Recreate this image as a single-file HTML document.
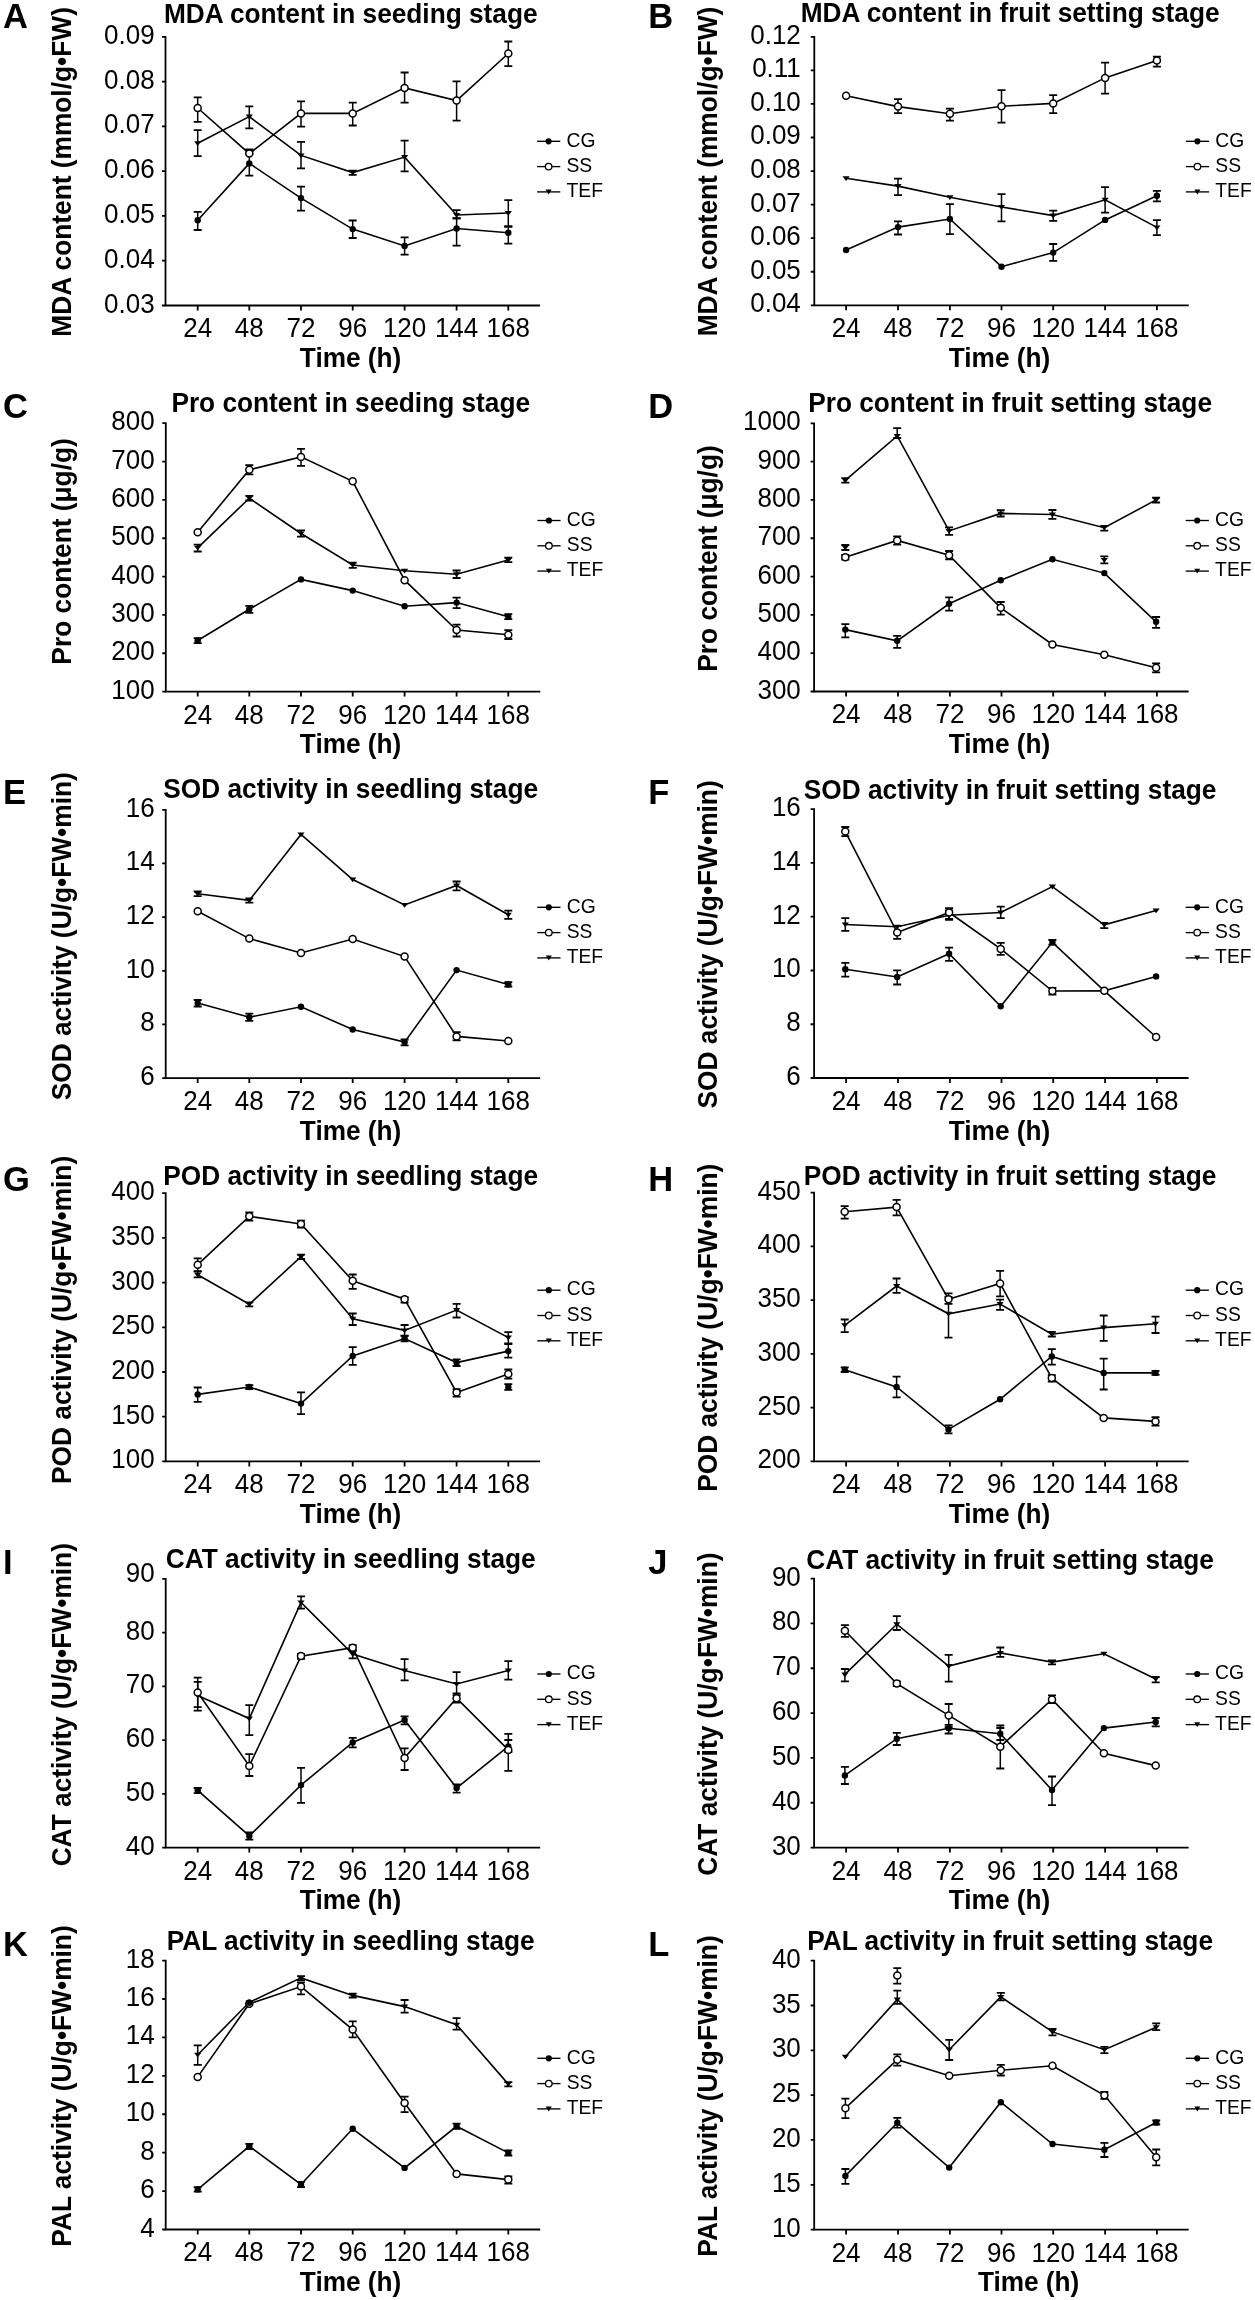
<!DOCTYPE html>
<html><head><meta charset="utf-8"><style>
html,body{margin:0;padding:0;background:#fff;}
svg{display:block;filter:grayscale(1) blur(0.3px);}
text{font-family:"Liberation Sans", sans-serif;fill:#000;}
</style></head><body>
<svg width="1255" height="2300" viewBox="0 0 1255 2300">
<rect width="1255" height="2300" fill="#fff"/>
<path d="M162 36.8H165.5V305.5H540" fill="none" stroke="#000" stroke-width="1.8" stroke-linejoin="miter"/>
<text class="ytick" transform="translate(154.6 43.8) scale(1 1.04)" text-anchor="end" font-size="26.0">0.09</text>
<text class="ytick" transform="translate(154.6 88.58) scale(1 1.04)" text-anchor="end" font-size="26.0">0.08</text>
<text class="ytick" transform="translate(154.6 133.37) scale(1 1.04)" text-anchor="end" font-size="26.0">0.07</text>
<text class="ytick" transform="translate(154.6 178.15) scale(1 1.04)" text-anchor="end" font-size="26.0">0.06</text>
<text class="ytick" transform="translate(154.6 222.93) scale(1 1.04)" text-anchor="end" font-size="26.0">0.05</text>
<text class="ytick" transform="translate(154.6 267.72) scale(1 1.04)" text-anchor="end" font-size="26.0">0.04</text>
<text class="ytick" transform="translate(154.6 312.5) scale(1 1.04)" text-anchor="end" font-size="26.0">0.03</text>
<text class="xtick" transform="translate(197.7 337.4) scale(1 1.04)" text-anchor="middle" font-size="26.0">24</text>
<text class="xtick" transform="translate(249.3 337.4) scale(1 1.04)" text-anchor="middle" font-size="26.0">48</text>
<text class="xtick" transform="translate(301 337.4) scale(1 1.04)" text-anchor="middle" font-size="26.0">72</text>
<text class="xtick" transform="translate(352.7 337.4) scale(1 1.04)" text-anchor="middle" font-size="26.0">96</text>
<text class="xtick" transform="translate(404.6 337.4) scale(1 1.04)" text-anchor="middle" font-size="26.0">120</text>
<text class="xtick" transform="translate(456.6 337.4) scale(1 1.04)" text-anchor="middle" font-size="26.0">144</text>
<text class="xtick" transform="translate(508.3 337.4) scale(1 1.04)" text-anchor="middle" font-size="26.0">168</text>
<path d="M162 81.58H165.5M162 126.37H165.5M162 171.15H165.5M162 215.93H165.5M162 260.72H165.5M162 305.5H165.5M197.7 305.5V310.5M249.3 305.5V310.5M301 305.5V310.5M352.7 305.5V310.5M404.6 305.5V310.5M456.6 305.5V310.5M508.3 305.5V310.5" stroke="#000" stroke-width="1.8" fill="none"/>
<text class="title" transform="translate(350.7 22.6) scale(1 1.04)" text-anchor="middle" font-weight="bold" font-size="26.25">MDA content in seeding stage</text>
<text class="ylab" transform="translate(70.6 7.1) rotate(-90) scale(1 1.04)" text-anchor="end" font-weight="bold" font-size="26.3">MDA content (mmol/g•FW)</text>
<text class="time" transform="translate(350.55 367.3) scale(1 1.04)" text-anchor="middle" font-weight="bold" font-size="26.2">Time (h)</text>
<text class="letter" transform="translate(3.1 28.3) scale(1 1.04)" font-weight="bold" font-size="34.5">A</text>
<path d="M537.1 141.3h23.2" stroke="#000" stroke-width="1.35"/>
<circle cx="548.6" cy="141.3" r="3.1" fill="#000"/>
<text class="legt" transform="translate(566.5 146.5) scale(1 1.04)" font-size="19.3">CG</text>
<path d="M537.1 166.6h23.2" stroke="#000" stroke-width="1.35"/>
<circle cx="548.6" cy="166.6" r="3.3" fill="#fff" stroke="#000" stroke-width="1.3"/>
<text class="legt" transform="translate(566.5 171.8) scale(1 1.04)" font-size="19.3">SS</text>
<path d="M537.1 191.9h23.2" stroke="#000" stroke-width="1.35"/>
<path d="M545.6 189.6L551.6 189.6L548.6 194.4Z" fill="#000"/>
<text class="legt" transform="translate(566.5 197.1) scale(1 1.04)" font-size="19.3">TEF</text>
<path d="M197.7 220.2L249.3 163.4L301 198.1L352.7 229.1L404.6 246L456.6 228.5L508.3 232.8" fill="none" stroke="#000" stroke-width="1.6" stroke-linejoin="miter" stroke-miterlimit="3"/>
<path d="M197.7 108L249.3 153.6L301 113.4L352.7 113.4L404.6 87.9L456.6 100.6L508.3 53.5" fill="none" stroke="#000" stroke-width="1.6" stroke-linejoin="miter" stroke-miterlimit="3"/>
<path d="M197.7 143.3L249.3 116.6L301 155.4L352.7 172.6L404.6 157.1L456.6 215L508.3 213" fill="none" stroke="#000" stroke-width="1.6" stroke-linejoin="miter" stroke-miterlimit="3"/>
<path d="M197.7 211.9V230" stroke="#000" stroke-width="1.5"/><path d="M193.7 211.9h8.0M193.7 230h8.0" stroke="#000" stroke-width="1.8"/>
<path d="M249.3 150.5V175.7" stroke="#000" stroke-width="1.5"/><path d="M245.3 150.5h8.0M245.3 175.7h8.0" stroke="#000" stroke-width="1.8"/>
<path d="M301 186.6V210.7" stroke="#000" stroke-width="1.5"/><path d="M297 186.6h8.0M297 210.7h8.0" stroke="#000" stroke-width="1.8"/>
<path d="M352.7 220.5V238" stroke="#000" stroke-width="1.5"/><path d="M348.7 220.5h8.0M348.7 238h8.0" stroke="#000" stroke-width="1.8"/>
<path d="M404.6 237.4V254.6" stroke="#000" stroke-width="1.5"/><path d="M400.6 237.4h8.0M400.6 254.6h8.0" stroke="#000" stroke-width="1.8"/>
<path d="M456.6 218.2V245.7" stroke="#000" stroke-width="1.5"/><path d="M452.6 218.2h8.0M452.6 245.7h8.0" stroke="#000" stroke-width="1.8"/>
<path d="M508.3 226.5V243.7" stroke="#000" stroke-width="1.5"/><path d="M504.3 226.5h8.0M504.3 243.7h8.0" stroke="#000" stroke-width="1.8"/>
<path d="M197.7 97.4V121.8" stroke="#000" stroke-width="1.5"/><path d="M193.7 97.4h8.0M193.7 121.8h8.0" stroke="#000" stroke-width="1.8"/>
<path d="M249.3 149.4V153.6" stroke="#000" stroke-width="1.5"/><path d="M245.3 149.4h8.0M245.3 153.6h8.0" stroke="#000" stroke-width="1.8"/>
<path d="M301 101.4V126.7" stroke="#000" stroke-width="1.5"/><path d="M297 101.4h8.0M297 126.7h8.0" stroke="#000" stroke-width="1.8"/>
<path d="M352.7 102.6V125.5" stroke="#000" stroke-width="1.5"/><path d="M348.7 102.6h8.0M348.7 125.5h8.0" stroke="#000" stroke-width="1.8"/>
<path d="M404.6 72.5V102.6" stroke="#000" stroke-width="1.5"/><path d="M400.6 72.5h8.0M400.6 102.6h8.0" stroke="#000" stroke-width="1.8"/>
<path d="M456.6 81.3V120.6" stroke="#000" stroke-width="1.5"/><path d="M452.6 81.3h8.0M452.6 120.6h8.0" stroke="#000" stroke-width="1.8"/>
<path d="M508.3 41.5V66.1" stroke="#000" stroke-width="1.5"/><path d="M504.3 41.5h8.0M504.3 66.1h8.0" stroke="#000" stroke-width="1.8"/>
<path d="M197.7 130.1V156.2" stroke="#000" stroke-width="1.5"/><path d="M193.7 130.1h8.0M193.7 156.2h8.0" stroke="#000" stroke-width="1.8"/>
<path d="M249.3 106.3V128.4" stroke="#000" stroke-width="1.5"/><path d="M245.3 106.3h8.0M245.3 128.4h8.0" stroke="#000" stroke-width="1.8"/>
<path d="M301 141.9V168.3" stroke="#000" stroke-width="1.5"/><path d="M297 141.9h8.0M297 168.3h8.0" stroke="#000" stroke-width="1.8"/>
<path d="M352.7 170.6V174.9" stroke="#000" stroke-width="1.5"/><path d="M348.7 170.6h8.0M348.7 174.9h8.0" stroke="#000" stroke-width="1.8"/>
<path d="M404.6 140.7V171.4" stroke="#000" stroke-width="1.5"/><path d="M400.6 140.7h8.0M400.6 171.4h8.0" stroke="#000" stroke-width="1.8"/>
<path d="M456.6 210.1V218.5" stroke="#000" stroke-width="1.5"/><path d="M452.6 210.1h8.0M452.6 218.5h8.0" stroke="#000" stroke-width="1.8"/>
<path d="M508.3 200.1V226.5" stroke="#000" stroke-width="1.5"/><path d="M504.3 200.1h8.0M504.3 226.5h8.0" stroke="#000" stroke-width="1.8"/>
<path d="M194.1 141.3L201.3 141.3L197.7 146.1Z" fill="#000"/>
<path d="M245.7 114.6L252.9 114.6L249.3 119.4Z" fill="#000"/>
<path d="M297.4 153.4L304.6 153.4L301 158.2Z" fill="#000"/>
<path d="M349.1 170.6L356.3 170.6L352.7 175.4Z" fill="#000"/>
<path d="M401 155.1L408.2 155.1L404.6 159.9Z" fill="#000"/>
<path d="M453 213L460.2 213L456.6 217.8Z" fill="#000"/>
<path d="M504.7 211L511.9 211L508.3 215.8Z" fill="#000"/>
<circle cx="197.7" cy="220.2" r="3.2" fill="#000"/>
<circle cx="249.3" cy="163.4" r="3.2" fill="#000"/>
<circle cx="301" cy="198.1" r="3.2" fill="#000"/>
<circle cx="352.7" cy="229.1" r="3.2" fill="#000"/>
<circle cx="404.6" cy="246" r="3.2" fill="#000"/>
<circle cx="456.6" cy="228.5" r="3.2" fill="#000"/>
<circle cx="508.3" cy="232.8" r="3.2" fill="#000"/>
<circle cx="197.7" cy="108" r="3.5" fill="#fff" stroke="#000" stroke-width="1.5"/>
<circle cx="249.3" cy="153.6" r="3.5" fill="#fff" stroke="#000" stroke-width="1.5"/>
<circle cx="301" cy="113.4" r="3.5" fill="#fff" stroke="#000" stroke-width="1.5"/>
<circle cx="352.7" cy="113.4" r="3.5" fill="#fff" stroke="#000" stroke-width="1.5"/>
<circle cx="404.6" cy="87.9" r="3.5" fill="#fff" stroke="#000" stroke-width="1.5"/>
<circle cx="456.6" cy="100.6" r="3.5" fill="#fff" stroke="#000" stroke-width="1.5"/>
<circle cx="508.3" cy="53.5" r="3.5" fill="#fff" stroke="#000" stroke-width="1.5"/>
<path d="M810.8 36.8H814.3V305.3H1188.8" fill="none" stroke="#000" stroke-width="1.8" stroke-linejoin="miter"/>
<text class="ytick" transform="translate(800.8 43.8) scale(1 1.04)" text-anchor="end" font-size="26.0">0.12</text>
<text class="ytick" transform="translate(800.8 77.36) scale(1 1.04)" text-anchor="end" font-size="26.0">0.11</text>
<text class="ytick" transform="translate(800.8 110.92) scale(1 1.04)" text-anchor="end" font-size="26.0">0.10</text>
<text class="ytick" transform="translate(800.8 144.49) scale(1 1.04)" text-anchor="end" font-size="26.0">0.09</text>
<text class="ytick" transform="translate(800.8 178.05) scale(1 1.04)" text-anchor="end" font-size="26.0">0.08</text>
<text class="ytick" transform="translate(800.8 211.61) scale(1 1.04)" text-anchor="end" font-size="26.0">0.07</text>
<text class="ytick" transform="translate(800.8 245.18) scale(1 1.04)" text-anchor="end" font-size="26.0">0.06</text>
<text class="ytick" transform="translate(800.8 278.74) scale(1 1.04)" text-anchor="end" font-size="26.0">0.05</text>
<text class="ytick" transform="translate(800.8 312.3) scale(1 1.04)" text-anchor="end" font-size="26.0">0.04</text>
<text class="xtick" transform="translate(846.1 337.2) scale(1 1.04)" text-anchor="middle" font-size="26.0">24</text>
<text class="xtick" transform="translate(898 337.2) scale(1 1.04)" text-anchor="middle" font-size="26.0">48</text>
<text class="xtick" transform="translate(949.9 337.2) scale(1 1.04)" text-anchor="middle" font-size="26.0">72</text>
<text class="xtick" transform="translate(1001.5 337.2) scale(1 1.04)" text-anchor="middle" font-size="26.0">96</text>
<text class="xtick" transform="translate(1053.2 337.2) scale(1 1.04)" text-anchor="middle" font-size="26.0">120</text>
<text class="xtick" transform="translate(1105.1 337.2) scale(1 1.04)" text-anchor="middle" font-size="26.0">144</text>
<text class="xtick" transform="translate(1156.9 337.2) scale(1 1.04)" text-anchor="middle" font-size="26.0">168</text>
<path d="M810.8 70.36H814.3M810.8 103.92H814.3M810.8 137.49H814.3M810.8 171.05H814.3M810.8 204.61H814.3M810.8 238.18H814.3M810.8 271.74H814.3M810.8 305.3H814.3M846.1 305.3V310.3M898 305.3V310.3M949.9 305.3V310.3M1001.5 305.3V310.3M1053.2 305.3V310.3M1105.1 305.3V310.3M1156.9 305.3V310.3" stroke="#000" stroke-width="1.8" fill="none"/>
<text class="title" transform="translate(1010.1 22.4) scale(1 1.04)" text-anchor="middle" font-weight="bold" font-size="26.25">MDA content in fruit setting stage</text>
<text class="ylab" transform="translate(717.2 6.7) rotate(-90) scale(1 1.04)" text-anchor="end" font-weight="bold" font-size="26.3">MDA content (mmol/g•FW)</text>
<text class="time" transform="translate(999.5 367.1) scale(1 1.04)" text-anchor="middle" font-weight="bold" font-size="26.2">Time (h)</text>
<text class="letter" transform="translate(648.2 28.2) scale(1 1.04)" font-weight="bold" font-size="34.5">B</text>
<path d="M1185.9 141.3h23.2" stroke="#000" stroke-width="1.35"/>
<circle cx="1197.4" cy="141.3" r="3.1" fill="#000"/>
<text class="legt" transform="translate(1215.3 146.5) scale(1 1.04)" font-size="19.3">CG</text>
<path d="M1185.9 166.6h23.2" stroke="#000" stroke-width="1.35"/>
<circle cx="1197.4" cy="166.6" r="3.3" fill="#fff" stroke="#000" stroke-width="1.3"/>
<text class="legt" transform="translate(1215.3 171.8) scale(1 1.04)" font-size="19.3">SS</text>
<path d="M1185.9 191.9h23.2" stroke="#000" stroke-width="1.35"/>
<path d="M1194.4 189.6L1200.4 189.6L1197.4 194.4Z" fill="#000"/>
<text class="legt" transform="translate(1215.3 197.1) scale(1 1.04)" font-size="19.3">TEF</text>
<path d="M846.1 250L898 227.1L949.9 219L1001.5 266.7L1053.2 252.6L1105.1 219.9L1156.9 195.8" fill="none" stroke="#000" stroke-width="1.6" stroke-linejoin="miter" stroke-miterlimit="3"/>
<path d="M846.1 95.7L898 106.6L949.9 113.8L1001.5 106.3L1053.2 103.4L1105.1 77.9L1156.9 60.4" fill="none" stroke="#000" stroke-width="1.6" stroke-linejoin="miter" stroke-miterlimit="3"/>
<path d="M846.1 178.3L898 186.1L949.9 197.2L1001.5 207L1053.2 215.6L1105.1 199.8L1156.9 227.4" fill="none" stroke="#000" stroke-width="1.6" stroke-linejoin="miter" stroke-miterlimit="3"/>
<path d="M898 221.3V234.5" stroke="#000" stroke-width="1.5"/><path d="M894 221.3h8.0M894 234.5h8.0" stroke="#000" stroke-width="1.8"/>
<path d="M949.9 204.1V234.2" stroke="#000" stroke-width="1.5"/><path d="M945.9 204.1h8.0M945.9 234.2h8.0" stroke="#000" stroke-width="1.8"/>
<path d="M1053.2 244V260.9" stroke="#000" stroke-width="1.5"/><path d="M1049.2 244h8.0M1049.2 260.9h8.0" stroke="#000" stroke-width="1.8"/>
<path d="M1156.9 190.9V201.3" stroke="#000" stroke-width="1.5"/><path d="M1152.9 190.9h8.0M1152.9 201.3h8.0" stroke="#000" stroke-width="1.8"/>
<path d="M898 99.1V113.2" stroke="#000" stroke-width="1.5"/><path d="M894 99.1h8.0M894 113.2h8.0" stroke="#000" stroke-width="1.8"/>
<path d="M949.9 108.6V120.6" stroke="#000" stroke-width="1.5"/><path d="M945.9 108.6h8.0M945.9 120.6h8.0" stroke="#000" stroke-width="1.8"/>
<path d="M1001.5 90.2V122.7" stroke="#000" stroke-width="1.5"/><path d="M997.5 90.2h8.0M997.5 122.7h8.0" stroke="#000" stroke-width="1.8"/>
<path d="M1053.2 95.1V113.2" stroke="#000" stroke-width="1.5"/><path d="M1049.2 95.1h8.0M1049.2 113.2h8.0" stroke="#000" stroke-width="1.8"/>
<path d="M1105.1 62.7V93.7" stroke="#000" stroke-width="1.5"/><path d="M1101.1 62.7h8.0M1101.1 93.7h8.0" stroke="#000" stroke-width="1.8"/>
<path d="M1156.9 56.7V66.7" stroke="#000" stroke-width="1.5"/><path d="M1152.9 56.7h8.0M1152.9 66.7h8.0" stroke="#000" stroke-width="1.8"/>
<path d="M898 178.6V195.2" stroke="#000" stroke-width="1.5"/><path d="M894 178.6h8.0M894 195.2h8.0" stroke="#000" stroke-width="1.8"/>
<path d="M1001.5 194.1V221.3" stroke="#000" stroke-width="1.5"/><path d="M997.5 194.1h8.0M997.5 221.3h8.0" stroke="#000" stroke-width="1.8"/>
<path d="M1053.2 210.7V220.8" stroke="#000" stroke-width="1.5"/><path d="M1049.2 210.7h8.0M1049.2 220.8h8.0" stroke="#000" stroke-width="1.8"/>
<path d="M1105.1 187.2V212.7" stroke="#000" stroke-width="1.5"/><path d="M1101.1 187.2h8.0M1101.1 212.7h8.0" stroke="#000" stroke-width="1.8"/>
<path d="M1156.9 220.2V235.1" stroke="#000" stroke-width="1.5"/><path d="M1152.9 220.2h8.0M1152.9 235.1h8.0" stroke="#000" stroke-width="1.8"/>
<path d="M842.5 176.3L849.7 176.3L846.1 181.1Z" fill="#000"/>
<path d="M894.4 184.1L901.6 184.1L898 188.9Z" fill="#000"/>
<path d="M946.3 195.2L953.5 195.2L949.9 200Z" fill="#000"/>
<path d="M997.9 205L1005.1 205L1001.5 209.8Z" fill="#000"/>
<path d="M1049.6 213.6L1056.8 213.6L1053.2 218.4Z" fill="#000"/>
<path d="M1101.5 197.8L1108.7 197.8L1105.1 202.6Z" fill="#000"/>
<path d="M1153.3 225.4L1160.5 225.4L1156.9 230.2Z" fill="#000"/>
<circle cx="846.1" cy="250" r="3.2" fill="#000"/>
<circle cx="898" cy="227.1" r="3.2" fill="#000"/>
<circle cx="949.9" cy="219" r="3.2" fill="#000"/>
<circle cx="1001.5" cy="266.7" r="3.2" fill="#000"/>
<circle cx="1053.2" cy="252.6" r="3.2" fill="#000"/>
<circle cx="1105.1" cy="219.9" r="3.2" fill="#000"/>
<circle cx="1156.9" cy="195.8" r="3.2" fill="#000"/>
<circle cx="846.1" cy="95.7" r="3.5" fill="#fff" stroke="#000" stroke-width="1.5"/>
<circle cx="898" cy="106.6" r="3.5" fill="#fff" stroke="#000" stroke-width="1.5"/>
<circle cx="949.9" cy="113.8" r="3.5" fill="#fff" stroke="#000" stroke-width="1.5"/>
<circle cx="1001.5" cy="106.3" r="3.5" fill="#fff" stroke="#000" stroke-width="1.5"/>
<circle cx="1053.2" cy="103.4" r="3.5" fill="#fff" stroke="#000" stroke-width="1.5"/>
<circle cx="1105.1" cy="77.9" r="3.5" fill="#fff" stroke="#000" stroke-width="1.5"/>
<circle cx="1156.9" cy="60.4" r="3.5" fill="#fff" stroke="#000" stroke-width="1.5"/>
<path d="M162.3 423.2H165.8V691.6H540.3" fill="none" stroke="#000" stroke-width="1.8" stroke-linejoin="miter"/>
<text class="ytick" transform="translate(154.6 430.2) scale(1 1.04)" text-anchor="end" font-size="26.0">800</text>
<text class="ytick" transform="translate(154.6 468.54) scale(1 1.04)" text-anchor="end" font-size="26.0">700</text>
<text class="ytick" transform="translate(154.6 506.89) scale(1 1.04)" text-anchor="end" font-size="26.0">600</text>
<text class="ytick" transform="translate(154.6 545.23) scale(1 1.04)" text-anchor="end" font-size="26.0">500</text>
<text class="ytick" transform="translate(154.6 583.57) scale(1 1.04)" text-anchor="end" font-size="26.0">400</text>
<text class="ytick" transform="translate(154.6 621.91) scale(1 1.04)" text-anchor="end" font-size="26.0">300</text>
<text class="ytick" transform="translate(154.6 660.26) scale(1 1.04)" text-anchor="end" font-size="26.0">200</text>
<text class="ytick" transform="translate(154.6 698.6) scale(1 1.04)" text-anchor="end" font-size="26.0">100</text>
<text class="xtick" transform="translate(197.7 723.5) scale(1 1.04)" text-anchor="middle" font-size="26.0">24</text>
<text class="xtick" transform="translate(249.3 723.5) scale(1 1.04)" text-anchor="middle" font-size="26.0">48</text>
<text class="xtick" transform="translate(301 723.5) scale(1 1.04)" text-anchor="middle" font-size="26.0">72</text>
<text class="xtick" transform="translate(352.7 723.5) scale(1 1.04)" text-anchor="middle" font-size="26.0">96</text>
<text class="xtick" transform="translate(404.6 723.5) scale(1 1.04)" text-anchor="middle" font-size="26.0">120</text>
<text class="xtick" transform="translate(456.6 723.5) scale(1 1.04)" text-anchor="middle" font-size="26.0">144</text>
<text class="xtick" transform="translate(508.3 723.5) scale(1 1.04)" text-anchor="middle" font-size="26.0">168</text>
<path d="M162.3 461.54H165.8M162.3 499.89H165.8M162.3 538.23H165.8M162.3 576.57H165.8M162.3 614.91H165.8M162.3 653.26H165.8M162.3 691.6H165.8M197.7 691.6V696.6M249.3 691.6V696.6M301 691.6V696.6M352.7 691.6V696.6M404.6 691.6V696.6M456.6 691.6V696.6M508.3 691.6V696.6" stroke="#000" stroke-width="1.8" fill="none"/>
<text class="title" transform="translate(350.7 412.1) scale(1 1.04)" text-anchor="middle" font-weight="bold" font-size="26.25">Pro content in seeding stage</text>
<text class="ylab" transform="translate(70.6 438.2) rotate(-90) scale(1 1.04)" text-anchor="end" font-weight="bold" font-size="26.3">Pro content (μg/g)</text>
<text class="time" transform="translate(350.55 753.4) scale(1 1.04)" text-anchor="middle" font-weight="bold" font-size="26.2">Time (h)</text>
<text class="letter" transform="translate(3.1 417.6) scale(1 1.04)" font-weight="bold" font-size="34.5">C</text>
<path d="M537.4 520.5h23.2" stroke="#000" stroke-width="1.35"/>
<circle cx="548.9" cy="520.5" r="3.1" fill="#000"/>
<text class="legt" transform="translate(566.8 525.7) scale(1 1.04)" font-size="19.3">CG</text>
<path d="M537.4 545.8h23.2" stroke="#000" stroke-width="1.35"/>
<circle cx="548.9" cy="545.8" r="3.3" fill="#fff" stroke="#000" stroke-width="1.3"/>
<text class="legt" transform="translate(566.8 551) scale(1 1.04)" font-size="19.3">SS</text>
<path d="M537.4 571.1h23.2" stroke="#000" stroke-width="1.35"/>
<path d="M545.9 568.8L551.9 568.8L548.9 573.6Z" fill="#000"/>
<text class="legt" transform="translate(566.8 576.3) scale(1 1.04)" font-size="19.3">TEF</text>
<path d="M197.7 640.5L249.3 609.2L301 579.4L352.7 590.6L404.6 606.3L456.6 602.6L508.3 616.7" fill="none" stroke="#000" stroke-width="1.6" stroke-linejoin="miter" stroke-miterlimit="3"/>
<path d="M197.7 532.3L249.3 469.8L301 456.9L352.7 481.3L404.6 580.2L456.6 630.1L508.3 634.7" fill="none" stroke="#000" stroke-width="1.6" stroke-linejoin="miter" stroke-miterlimit="3"/>
<path d="M197.7 547.8L249.3 498.2L301 533.5L352.7 565L404.6 570.8L456.6 574.2L508.3 559.9" fill="none" stroke="#000" stroke-width="1.6" stroke-linejoin="miter" stroke-miterlimit="3"/>
<path d="M197.7 638.2V643.1" stroke="#000" stroke-width="1.5"/><path d="M193.7 638.2h8.0M193.7 643.1h8.0" stroke="#000" stroke-width="1.8"/>
<path d="M249.3 605.8V612.9" stroke="#000" stroke-width="1.5"/><path d="M245.3 605.8h8.0M245.3 612.9h8.0" stroke="#000" stroke-width="1.8"/>
<path d="M456.6 597.7V608.1" stroke="#000" stroke-width="1.5"/><path d="M452.6 597.7h8.0M452.6 608.1h8.0" stroke="#000" stroke-width="1.8"/>
<path d="M508.3 614.1V619.2" stroke="#000" stroke-width="1.5"/><path d="M504.3 614.1h8.0M504.3 619.2h8.0" stroke="#000" stroke-width="1.8"/>
<path d="M249.3 465.2V474.4" stroke="#000" stroke-width="1.5"/><path d="M245.3 465.2h8.0M245.3 474.4h8.0" stroke="#000" stroke-width="1.8"/>
<path d="M301 448.8V465.8" stroke="#000" stroke-width="1.5"/><path d="M297 448.8h8.0M297 465.8h8.0" stroke="#000" stroke-width="1.8"/>
<path d="M456.6 624.7V636.5" stroke="#000" stroke-width="1.5"/><path d="M452.6 624.7h8.0M452.6 636.5h8.0" stroke="#000" stroke-width="1.8"/>
<path d="M508.3 630.1V639" stroke="#000" stroke-width="1.5"/><path d="M504.3 630.1h8.0M504.3 639h8.0" stroke="#000" stroke-width="1.8"/>
<path d="M197.7 544.7V551.5" stroke="#000" stroke-width="1.5"/><path d="M193.7 544.7h8.0M193.7 551.5h8.0" stroke="#000" stroke-width="1.8"/>
<path d="M249.3 495.9V500.5" stroke="#000" stroke-width="1.5"/><path d="M245.3 495.9h8.0M245.3 500.5h8.0" stroke="#000" stroke-width="1.8"/>
<path d="M301 530.3V536.6" stroke="#000" stroke-width="1.5"/><path d="M297 530.3h8.0M297 536.6h8.0" stroke="#000" stroke-width="1.8"/>
<path d="M352.7 562.7V567.9" stroke="#000" stroke-width="1.5"/><path d="M348.7 562.7h8.0M348.7 567.9h8.0" stroke="#000" stroke-width="1.8"/>
<path d="M456.6 570.5V578" stroke="#000" stroke-width="1.5"/><path d="M452.6 570.5h8.0M452.6 578h8.0" stroke="#000" stroke-width="1.8"/>
<path d="M508.3 557.6V562.2" stroke="#000" stroke-width="1.5"/><path d="M504.3 557.6h8.0M504.3 562.2h8.0" stroke="#000" stroke-width="1.8"/>
<path d="M194.1 545.8L201.3 545.8L197.7 550.6Z" fill="#000"/>
<path d="M245.7 496.2L252.9 496.2L249.3 501Z" fill="#000"/>
<path d="M297.4 531.5L304.6 531.5L301 536.3Z" fill="#000"/>
<path d="M349.1 563L356.3 563L352.7 567.8Z" fill="#000"/>
<path d="M401 568.8L408.2 568.8L404.6 573.6Z" fill="#000"/>
<path d="M453 572.2L460.2 572.2L456.6 577Z" fill="#000"/>
<path d="M504.7 557.9L511.9 557.9L508.3 562.7Z" fill="#000"/>
<circle cx="197.7" cy="640.5" r="3.2" fill="#000"/>
<circle cx="249.3" cy="609.2" r="3.2" fill="#000"/>
<circle cx="301" cy="579.4" r="3.2" fill="#000"/>
<circle cx="352.7" cy="590.6" r="3.2" fill="#000"/>
<circle cx="404.6" cy="606.3" r="3.2" fill="#000"/>
<circle cx="456.6" cy="602.6" r="3.2" fill="#000"/>
<circle cx="508.3" cy="616.7" r="3.2" fill="#000"/>
<circle cx="197.7" cy="532.3" r="3.5" fill="#fff" stroke="#000" stroke-width="1.5"/>
<circle cx="249.3" cy="469.8" r="3.5" fill="#fff" stroke="#000" stroke-width="1.5"/>
<circle cx="301" cy="456.9" r="3.5" fill="#fff" stroke="#000" stroke-width="1.5"/>
<circle cx="352.7" cy="481.3" r="3.5" fill="#fff" stroke="#000" stroke-width="1.5"/>
<circle cx="404.6" cy="580.2" r="3.5" fill="#fff" stroke="#000" stroke-width="1.5"/>
<circle cx="456.6" cy="630.1" r="3.5" fill="#fff" stroke="#000" stroke-width="1.5"/>
<circle cx="508.3" cy="634.7" r="3.5" fill="#fff" stroke="#000" stroke-width="1.5"/>
<path d="M810.6 423.3H814.1V691.5H1188.6" fill="none" stroke="#000" stroke-width="1.8" stroke-linejoin="miter"/>
<text class="ytick" transform="translate(800.8 430.3) scale(1 1.04)" text-anchor="end" font-size="26.0">1000</text>
<text class="ytick" transform="translate(800.8 468.61) scale(1 1.04)" text-anchor="end" font-size="26.0">900</text>
<text class="ytick" transform="translate(800.8 506.93) scale(1 1.04)" text-anchor="end" font-size="26.0">800</text>
<text class="ytick" transform="translate(800.8 545.24) scale(1 1.04)" text-anchor="end" font-size="26.0">700</text>
<text class="ytick" transform="translate(800.8 583.56) scale(1 1.04)" text-anchor="end" font-size="26.0">600</text>
<text class="ytick" transform="translate(800.8 621.87) scale(1 1.04)" text-anchor="end" font-size="26.0">500</text>
<text class="ytick" transform="translate(800.8 660.19) scale(1 1.04)" text-anchor="end" font-size="26.0">400</text>
<text class="ytick" transform="translate(800.8 698.5) scale(1 1.04)" text-anchor="end" font-size="26.0">300</text>
<text class="xtick" transform="translate(846.1 723.4) scale(1 1.04)" text-anchor="middle" font-size="26.0">24</text>
<text class="xtick" transform="translate(898 723.4) scale(1 1.04)" text-anchor="middle" font-size="26.0">48</text>
<text class="xtick" transform="translate(949.9 723.4) scale(1 1.04)" text-anchor="middle" font-size="26.0">72</text>
<text class="xtick" transform="translate(1001.5 723.4) scale(1 1.04)" text-anchor="middle" font-size="26.0">96</text>
<text class="xtick" transform="translate(1053.2 723.4) scale(1 1.04)" text-anchor="middle" font-size="26.0">120</text>
<text class="xtick" transform="translate(1105.1 723.4) scale(1 1.04)" text-anchor="middle" font-size="26.0">144</text>
<text class="xtick" transform="translate(1156.9 723.4) scale(1 1.04)" text-anchor="middle" font-size="26.0">168</text>
<path d="M810.6 461.61H814.1M810.6 499.93H814.1M810.6 538.24H814.1M810.6 576.56H814.1M810.6 614.87H814.1M810.6 653.19H814.1M810.6 691.5H814.1M846.1 691.5V696.5M898 691.5V696.5M949.9 691.5V696.5M1001.5 691.5V696.5M1053.2 691.5V696.5M1105.1 691.5V696.5M1156.9 691.5V696.5" stroke="#000" stroke-width="1.8" fill="none"/>
<text class="title" transform="translate(1010.1 411.9) scale(1 1.04)" text-anchor="middle" font-weight="bold" font-size="26.25">Pro content in fruit setting stage</text>
<text class="ylab" transform="translate(717.2 445.3) rotate(-90) scale(1 1.04)" text-anchor="end" font-weight="bold" font-size="26.3">Pro content (μg/g)</text>
<text class="time" transform="translate(999.5 753.3) scale(1 1.04)" text-anchor="middle" font-weight="bold" font-size="26.2">Time (h)</text>
<text class="letter" transform="translate(648.2 418) scale(1 1.04)" font-weight="bold" font-size="34.5">D</text>
<path d="M1185.7 520.5h23.2" stroke="#000" stroke-width="1.35"/>
<circle cx="1197.2" cy="520.5" r="3.1" fill="#000"/>
<text class="legt" transform="translate(1215.1 525.7) scale(1 1.04)" font-size="19.3">CG</text>
<path d="M1185.7 545.8h23.2" stroke="#000" stroke-width="1.35"/>
<circle cx="1197.2" cy="545.8" r="3.3" fill="#fff" stroke="#000" stroke-width="1.3"/>
<text class="legt" transform="translate(1215.1 551) scale(1 1.04)" font-size="19.3">SS</text>
<path d="M1185.7 571.1h23.2" stroke="#000" stroke-width="1.35"/>
<path d="M1194.2 568.8L1200.2 568.8L1197.2 573.6Z" fill="#000"/>
<text class="legt" transform="translate(1215.1 576.3) scale(1 1.04)" font-size="19.3">TEF</text>
<path d="M845.3 629.6L897.2 640.8L949.1 603.8L1000.7 580.2L1052.4 559.3L1104.3 573.1L1156.1 621.8" fill="none" stroke="#000" stroke-width="1.6" stroke-linejoin="miter" stroke-miterlimit="3"/>
<path d="M845.3 557.3L897.2 540.4L949.1 555.3L1000.7 607.8L1052.4 644.5L1104.3 654.8L1156.1 667.7" fill="none" stroke="#000" stroke-width="1.6" stroke-linejoin="miter" stroke-miterlimit="3"/>
<path d="M845.3 480.4L897.2 435.9L949.1 530.9L1000.7 513.4L1052.4 514.5L1104.3 527.7L1156.1 499.9" fill="none" stroke="#000" stroke-width="1.6" stroke-linejoin="miter" stroke-miterlimit="3"/>
<path d="M845.3 624.1V637.3" stroke="#000" stroke-width="1.5"/><path d="M841.3 624.1h8.0M841.3 637.3h8.0" stroke="#000" stroke-width="1.8"/>
<path d="M897.2 635.9V647.9" stroke="#000" stroke-width="1.5"/><path d="M893.2 635.9h8.0M893.2 647.9h8.0" stroke="#000" stroke-width="1.8"/>
<path d="M949.1 597.4V610.6" stroke="#000" stroke-width="1.5"/><path d="M945.1 597.4h8.0M945.1 610.6h8.0" stroke="#000" stroke-width="1.8"/>
<path d="M1156.1 617V627.9" stroke="#000" stroke-width="1.5"/><path d="M1152.1 617h8.0M1152.1 627.9h8.0" stroke="#000" stroke-width="1.8"/>
<path d="M845.3 555V559.6" stroke="#000" stroke-width="1.5"/><path d="M841.3 555h8.0M841.3 559.6h8.0" stroke="#000" stroke-width="1.8"/>
<path d="M897.2 536.4V544.6" stroke="#000" stroke-width="1.5"/><path d="M893.2 536.4h8.0M893.2 544.6h8.0" stroke="#000" stroke-width="1.8"/>
<path d="M949.1 551V559.3" stroke="#000" stroke-width="1.5"/><path d="M945.1 551h8.0M945.1 559.3h8.0" stroke="#000" stroke-width="1.8"/>
<path d="M1000.7 602V614.7" stroke="#000" stroke-width="1.5"/><path d="M996.7 602h8.0M996.7 614.7h8.0" stroke="#000" stroke-width="1.8"/>
<path d="M1156.1 663.4V672.3" stroke="#000" stroke-width="1.5"/><path d="M1152.1 663.4h8.0M1152.1 672.3h8.0" stroke="#000" stroke-width="1.8"/>
<path d="M845.3 478.1V482.7" stroke="#000" stroke-width="1.5"/><path d="M841.3 478.1h8.0M841.3 482.7h8.0" stroke="#000" stroke-width="1.8"/>
<path d="M897.2 428.2V438" stroke="#000" stroke-width="1.5"/><path d="M893.2 428.2h8.0M893.2 438h8.0" stroke="#000" stroke-width="1.8"/>
<path d="M949.1 527.4V534.9" stroke="#000" stroke-width="1.5"/><path d="M945.1 527.4h8.0M945.1 534.9h8.0" stroke="#000" stroke-width="1.8"/>
<path d="M1000.7 510.2V516.5" stroke="#000" stroke-width="1.5"/><path d="M996.7 510.2h8.0M996.7 516.5h8.0" stroke="#000" stroke-width="1.8"/>
<path d="M1052.4 510V518.8" stroke="#000" stroke-width="1.5"/><path d="M1048.4 510h8.0M1048.4 518.8h8.0" stroke="#000" stroke-width="1.8"/>
<path d="M1104.3 526V530.6" stroke="#000" stroke-width="1.5"/><path d="M1100.3 526h8.0M1100.3 530.6h8.0" stroke="#000" stroke-width="1.8"/>
<path d="M1156.1 497.6V502.5" stroke="#000" stroke-width="1.5"/><path d="M1152.1 497.6h8.0M1152.1 502.5h8.0" stroke="#000" stroke-width="1.8"/>
<path d="M845.3 545V550" stroke="#000" stroke-width="1.5"/><path d="M841.3 545h8.0M841.3 550h8.0" stroke="#000" stroke-width="1.8"/>
<path d="M1104.3 556.4V563.3" stroke="#000" stroke-width="1.5"/><path d="M1100.3 556.4h8.0M1100.3 563.3h8.0" stroke="#000" stroke-width="1.8"/>
<path d="M841.7 478.4L848.9 478.4L845.3 483.2Z" fill="#000"/>
<path d="M893.6 433.9L900.8 433.9L897.2 438.7Z" fill="#000"/>
<path d="M945.5 528.9L952.7 528.9L949.1 533.7Z" fill="#000"/>
<path d="M997.1 511.4L1004.3 511.4L1000.7 516.2Z" fill="#000"/>
<path d="M1048.8 512.5L1056 512.5L1052.4 517.3Z" fill="#000"/>
<path d="M1100.7 525.7L1107.9 525.7L1104.3 530.5Z" fill="#000"/>
<path d="M1152.5 497.9L1159.7 497.9L1156.1 502.7Z" fill="#000"/>
<circle cx="845.3" cy="629.6" r="3.2" fill="#000"/>
<circle cx="897.2" cy="640.8" r="3.2" fill="#000"/>
<circle cx="949.1" cy="603.8" r="3.2" fill="#000"/>
<circle cx="1000.7" cy="580.2" r="3.2" fill="#000"/>
<circle cx="1052.4" cy="559.3" r="3.2" fill="#000"/>
<circle cx="1104.3" cy="573.1" r="3.2" fill="#000"/>
<circle cx="1156.1" cy="621.8" r="3.2" fill="#000"/>
<circle cx="845.3" cy="557.3" r="3.5" fill="#fff" stroke="#000" stroke-width="1.5"/>
<circle cx="897.2" cy="540.4" r="3.5" fill="#fff" stroke="#000" stroke-width="1.5"/>
<circle cx="949.1" cy="555.3" r="3.5" fill="#fff" stroke="#000" stroke-width="1.5"/>
<circle cx="1000.7" cy="607.8" r="3.5" fill="#fff" stroke="#000" stroke-width="1.5"/>
<circle cx="1052.4" cy="644.5" r="3.5" fill="#fff" stroke="#000" stroke-width="1.5"/>
<circle cx="1104.3" cy="654.8" r="3.5" fill="#fff" stroke="#000" stroke-width="1.5"/>
<circle cx="1156.1" cy="667.7" r="3.5" fill="#fff" stroke="#000" stroke-width="1.5"/>
<path d="M841.7 545.5L848.9 545.5L845.3 550.3Z" fill="#000"/>
<path d="M1100.7 557.9L1107.9 557.9L1104.3 562.7Z" fill="#000"/>
<path d="M162.2 809.8H165.7V1078.1H540.2" fill="none" stroke="#000" stroke-width="1.8" stroke-linejoin="miter"/>
<text class="ytick" transform="translate(154.6 816.8) scale(1 1.04)" text-anchor="end" font-size="26.0">16</text>
<text class="ytick" transform="translate(154.6 870.46) scale(1 1.04)" text-anchor="end" font-size="26.0">14</text>
<text class="ytick" transform="translate(154.6 924.12) scale(1 1.04)" text-anchor="end" font-size="26.0">12</text>
<text class="ytick" transform="translate(154.6 977.78) scale(1 1.04)" text-anchor="end" font-size="26.0">10</text>
<text class="ytick" transform="translate(154.6 1031.44) scale(1 1.04)" text-anchor="end" font-size="26.0">8</text>
<text class="ytick" transform="translate(154.6 1085.1) scale(1 1.04)" text-anchor="end" font-size="26.0">6</text>
<text class="xtick" transform="translate(197.7 1110) scale(1 1.04)" text-anchor="middle" font-size="26.0">24</text>
<text class="xtick" transform="translate(249.3 1110) scale(1 1.04)" text-anchor="middle" font-size="26.0">48</text>
<text class="xtick" transform="translate(301 1110) scale(1 1.04)" text-anchor="middle" font-size="26.0">72</text>
<text class="xtick" transform="translate(352.7 1110) scale(1 1.04)" text-anchor="middle" font-size="26.0">96</text>
<text class="xtick" transform="translate(404.6 1110) scale(1 1.04)" text-anchor="middle" font-size="26.0">120</text>
<text class="xtick" transform="translate(456.6 1110) scale(1 1.04)" text-anchor="middle" font-size="26.0">144</text>
<text class="xtick" transform="translate(508.3 1110) scale(1 1.04)" text-anchor="middle" font-size="26.0">168</text>
<path d="M162.2 863.46H165.7M162.2 917.12H165.7M162.2 970.78H165.7M162.2 1024.44H165.7M162.2 1078.1H165.7M197.7 1078.1V1083.1M249.3 1078.1V1083.1M301 1078.1V1083.1M352.7 1078.1V1083.1M404.6 1078.1V1083.1M456.6 1078.1V1083.1M508.3 1078.1V1083.1" stroke="#000" stroke-width="1.8" fill="none"/>
<text class="title" transform="translate(350.7 798.2) scale(1 1.04)" text-anchor="middle" font-weight="bold" font-size="26.25">SOD activity in seedling stage</text>
<text class="ylab" transform="translate(70.6 772.2) rotate(-90) scale(1 1.04)" text-anchor="end" font-weight="bold" font-size="26.3">SOD activity (U/g•FW•min)</text>
<text class="time" transform="translate(350.55 1139.9) scale(1 1.04)" text-anchor="middle" font-weight="bold" font-size="26.2">Time (h)</text>
<text class="letter" transform="translate(3.1 804.4) scale(1 1.04)" font-weight="bold" font-size="34.5">E</text>
<path d="M537.3 907.3h23.2" stroke="#000" stroke-width="1.35"/>
<circle cx="548.8" cy="907.3" r="3.1" fill="#000"/>
<text class="legt" transform="translate(566.7 912.5) scale(1 1.04)" font-size="19.3">CG</text>
<path d="M537.3 932.6h23.2" stroke="#000" stroke-width="1.35"/>
<circle cx="548.8" cy="932.6" r="3.3" fill="#fff" stroke="#000" stroke-width="1.3"/>
<text class="legt" transform="translate(566.7 937.8) scale(1 1.04)" font-size="19.3">SS</text>
<path d="M537.3 957.9h23.2" stroke="#000" stroke-width="1.35"/>
<path d="M545.8 955.6L551.8 955.6L548.8 960.4Z" fill="#000"/>
<text class="legt" transform="translate(566.7 963.1) scale(1 1.04)" font-size="19.3">TEF</text>
<path d="M197.7 1003.1L249.3 1017.2L301 1006.8L352.7 1029.5L404.6 1042.1L456.6 970.1L508.3 984.5" fill="none" stroke="#000" stroke-width="1.6" stroke-linejoin="miter" stroke-miterlimit="3"/>
<path d="M197.7 911.3L249.3 938.6L301 952.9L352.7 939.1L404.6 956.6L456.6 1036.4L508.3 1041" fill="none" stroke="#000" stroke-width="1.6" stroke-linejoin="miter" stroke-miterlimit="3"/>
<path d="M197.7 893.8L249.3 900.4L301 834.4L352.7 879.5L404.6 905L456.6 885.5L508.3 914.7" fill="none" stroke="#000" stroke-width="1.6" stroke-linejoin="miter" stroke-miterlimit="3"/>
<path d="M197.7 1000V1006.5" stroke="#000" stroke-width="1.5"/><path d="M193.7 1000h8.0M193.7 1006.5h8.0" stroke="#000" stroke-width="1.8"/>
<path d="M249.3 1013.7V1020.9" stroke="#000" stroke-width="1.5"/><path d="M245.3 1013.7h8.0M245.3 1020.9h8.0" stroke="#000" stroke-width="1.8"/>
<path d="M404.6 1039.5V1045.3" stroke="#000" stroke-width="1.5"/><path d="M400.6 1039.5h8.0M400.6 1045.3h8.0" stroke="#000" stroke-width="1.8"/>
<path d="M508.3 982.2V986.7" stroke="#000" stroke-width="1.5"/><path d="M504.3 982.2h8.0M504.3 986.7h8.0" stroke="#000" stroke-width="1.8"/>
<path d="M456.6 1032.1V1040.4" stroke="#000" stroke-width="1.5"/><path d="M452.6 1032.1h8.0M452.6 1040.4h8.0" stroke="#000" stroke-width="1.8"/>
<path d="M197.7 891.5V896.1" stroke="#000" stroke-width="1.5"/><path d="M193.7 891.5h8.0M193.7 896.1h8.0" stroke="#000" stroke-width="1.8"/>
<path d="M249.3 898.4V902.7" stroke="#000" stroke-width="1.5"/><path d="M245.3 898.4h8.0M245.3 902.7h8.0" stroke="#000" stroke-width="1.8"/>
<path d="M456.6 881.5V890.4" stroke="#000" stroke-width="1.5"/><path d="M452.6 881.5h8.0M452.6 890.4h8.0" stroke="#000" stroke-width="1.8"/>
<path d="M508.3 910.7V918.8" stroke="#000" stroke-width="1.5"/><path d="M504.3 910.7h8.0M504.3 918.8h8.0" stroke="#000" stroke-width="1.8"/>
<path d="M194.1 891.8L201.3 891.8L197.7 896.6Z" fill="#000"/>
<path d="M245.7 898.4L252.9 898.4L249.3 903.2Z" fill="#000"/>
<path d="M297.4 832.4L304.6 832.4L301 837.2Z" fill="#000"/>
<path d="M349.1 877.5L356.3 877.5L352.7 882.3Z" fill="#000"/>
<path d="M401 903L408.2 903L404.6 907.8Z" fill="#000"/>
<path d="M453 883.5L460.2 883.5L456.6 888.3Z" fill="#000"/>
<path d="M504.7 912.7L511.9 912.7L508.3 917.5Z" fill="#000"/>
<circle cx="197.7" cy="1003.1" r="3.2" fill="#000"/>
<circle cx="249.3" cy="1017.2" r="3.2" fill="#000"/>
<circle cx="301" cy="1006.8" r="3.2" fill="#000"/>
<circle cx="352.7" cy="1029.5" r="3.2" fill="#000"/>
<circle cx="404.6" cy="1042.1" r="3.2" fill="#000"/>
<circle cx="456.6" cy="970.1" r="3.2" fill="#000"/>
<circle cx="508.3" cy="984.5" r="3.2" fill="#000"/>
<circle cx="197.7" cy="911.3" r="3.5" fill="#fff" stroke="#000" stroke-width="1.5"/>
<circle cx="249.3" cy="938.6" r="3.5" fill="#fff" stroke="#000" stroke-width="1.5"/>
<circle cx="301" cy="952.9" r="3.5" fill="#fff" stroke="#000" stroke-width="1.5"/>
<circle cx="352.7" cy="939.1" r="3.5" fill="#fff" stroke="#000" stroke-width="1.5"/>
<circle cx="404.6" cy="956.6" r="3.5" fill="#fff" stroke="#000" stroke-width="1.5"/>
<circle cx="456.6" cy="1036.4" r="3.5" fill="#fff" stroke="#000" stroke-width="1.5"/>
<circle cx="508.3" cy="1041" r="3.5" fill="#fff" stroke="#000" stroke-width="1.5"/>
<path d="M810.6 809.2H814.1V1078H1188.6" fill="none" stroke="#000" stroke-width="1.8" stroke-linejoin="miter"/>
<text class="ytick" transform="translate(800.8 816.2) scale(1 1.04)" text-anchor="end" font-size="26.0">16</text>
<text class="ytick" transform="translate(800.8 869.96) scale(1 1.04)" text-anchor="end" font-size="26.0">14</text>
<text class="ytick" transform="translate(800.8 923.72) scale(1 1.04)" text-anchor="end" font-size="26.0">12</text>
<text class="ytick" transform="translate(800.8 977.48) scale(1 1.04)" text-anchor="end" font-size="26.0">10</text>
<text class="ytick" transform="translate(800.8 1031.24) scale(1 1.04)" text-anchor="end" font-size="26.0">8</text>
<text class="ytick" transform="translate(800.8 1085) scale(1 1.04)" text-anchor="end" font-size="26.0">6</text>
<text class="xtick" transform="translate(846.1 1109.9) scale(1 1.04)" text-anchor="middle" font-size="26.0">24</text>
<text class="xtick" transform="translate(898 1109.9) scale(1 1.04)" text-anchor="middle" font-size="26.0">48</text>
<text class="xtick" transform="translate(949.9 1109.9) scale(1 1.04)" text-anchor="middle" font-size="26.0">72</text>
<text class="xtick" transform="translate(1001.5 1109.9) scale(1 1.04)" text-anchor="middle" font-size="26.0">96</text>
<text class="xtick" transform="translate(1053.2 1109.9) scale(1 1.04)" text-anchor="middle" font-size="26.0">120</text>
<text class="xtick" transform="translate(1105.1 1109.9) scale(1 1.04)" text-anchor="middle" font-size="26.0">144</text>
<text class="xtick" transform="translate(1156.9 1109.9) scale(1 1.04)" text-anchor="middle" font-size="26.0">168</text>
<path d="M810.6 862.96H814.1M810.6 916.72H814.1M810.6 970.48H814.1M810.6 1024.24H814.1M810.6 1078H814.1M846.1 1078V1083M898 1078V1083M949.9 1078V1083M1001.5 1078V1083M1053.2 1078V1083M1105.1 1078V1083M1156.9 1078V1083" stroke="#000" stroke-width="1.8" fill="none"/>
<text class="title" transform="translate(1010.1 798.5) scale(1 1.04)" text-anchor="middle" font-weight="bold" font-size="26.25">SOD activity in fruit setting stage</text>
<text class="ylab" transform="translate(717.2 780.3) rotate(-90) scale(1 1.04)" text-anchor="end" font-weight="bold" font-size="26.3">SOD activity (U/g•FW•min)</text>
<text class="time" transform="translate(999.5 1139.8) scale(1 1.04)" text-anchor="middle" font-weight="bold" font-size="26.2">Time (h)</text>
<text class="letter" transform="translate(648.2 804.4) scale(1 1.04)" font-weight="bold" font-size="34.5">F</text>
<path d="M1185.7 907.3h23.2" stroke="#000" stroke-width="1.35"/>
<circle cx="1197.2" cy="907.3" r="3.1" fill="#000"/>
<text class="legt" transform="translate(1215.1 912.5) scale(1 1.04)" font-size="19.3">CG</text>
<path d="M1185.7 932.6h23.2" stroke="#000" stroke-width="1.35"/>
<circle cx="1197.2" cy="932.6" r="3.3" fill="#fff" stroke="#000" stroke-width="1.3"/>
<text class="legt" transform="translate(1215.1 937.8) scale(1 1.04)" font-size="19.3">SS</text>
<path d="M1185.7 957.9h23.2" stroke="#000" stroke-width="1.35"/>
<path d="M1194.2 955.6L1200.2 955.6L1197.2 960.4Z" fill="#000"/>
<text class="legt" transform="translate(1215.1 963.1) scale(1 1.04)" font-size="19.3">TEF</text>
<path d="M845.3 969.2L897.2 977L949.1 953.8L1000.7 1006.3L1052.4 942.3L1104.3 990.8L1156.1 976.4" fill="none" stroke="#000" stroke-width="1.6" stroke-linejoin="miter" stroke-miterlimit="3"/>
<path d="M845.3 831.6L897.2 932.5L949.1 912.5L1000.7 948.9L1052.4 991L1104.3 990.8L1156.1 1037" fill="none" stroke="#000" stroke-width="1.6" stroke-linejoin="miter" stroke-miterlimit="3"/>
<path d="M845.3 924.5L897.2 926.8L949.1 915.3L1000.7 912.5L1052.4 886.6L1104.3 924.8L1156.1 910.4" fill="none" stroke="#000" stroke-width="1.6" stroke-linejoin="miter" stroke-miterlimit="3"/>
<path d="M845.3 962.9V976.7" stroke="#000" stroke-width="1.5"/><path d="M841.3 962.9h8.0M841.3 976.7h8.0" stroke="#000" stroke-width="1.8"/>
<path d="M897.2 970.4V984.5" stroke="#000" stroke-width="1.5"/><path d="M893.2 970.4h8.0M893.2 984.5h8.0" stroke="#000" stroke-width="1.8"/>
<path d="M949.1 947.7V960.9" stroke="#000" stroke-width="1.5"/><path d="M945.1 947.7h8.0M945.1 960.9h8.0" stroke="#000" stroke-width="1.8"/>
<path d="M1052.4 940V944.6" stroke="#000" stroke-width="1.5"/><path d="M1048.4 940h8.0M1048.4 944.6h8.0" stroke="#000" stroke-width="1.8"/>
<path d="M845.3 827V836.1" stroke="#000" stroke-width="1.5"/><path d="M841.3 827h8.0M841.3 836.1h8.0" stroke="#000" stroke-width="1.8"/>
<path d="M897.2 926.2V938.8" stroke="#000" stroke-width="1.5"/><path d="M893.2 926.2h8.0M893.2 938.8h8.0" stroke="#000" stroke-width="1.8"/>
<path d="M949.1 908.1V919" stroke="#000" stroke-width="1.5"/><path d="M945.1 908.1h8.0M945.1 919h8.0" stroke="#000" stroke-width="1.8"/>
<path d="M1000.7 942.9V954.9" stroke="#000" stroke-width="1.5"/><path d="M996.7 942.9h8.0M996.7 954.9h8.0" stroke="#000" stroke-width="1.8"/>
<path d="M1052.4 987.9V994.5" stroke="#000" stroke-width="1.5"/><path d="M1048.4 987.9h8.0M1048.4 994.5h8.0" stroke="#000" stroke-width="1.8"/>
<path d="M845.3 918.2V930.8" stroke="#000" stroke-width="1.5"/><path d="M841.3 918.2h8.0M841.3 930.8h8.0" stroke="#000" stroke-width="1.8"/>
<path d="M949.1 910.4V919.9" stroke="#000" stroke-width="1.5"/><path d="M945.1 910.4h8.0M945.1 919.9h8.0" stroke="#000" stroke-width="1.8"/>
<path d="M1000.7 906.7V918.2" stroke="#000" stroke-width="1.5"/><path d="M996.7 906.7h8.0M996.7 918.2h8.0" stroke="#000" stroke-width="1.8"/>
<path d="M1104.3 922.8V928.2" stroke="#000" stroke-width="1.5"/><path d="M1100.3 922.8h8.0M1100.3 928.2h8.0" stroke="#000" stroke-width="1.8"/>
<path d="M841.7 922.5L848.9 922.5L845.3 927.3Z" fill="#000"/>
<path d="M893.6 924.8L900.8 924.8L897.2 929.6Z" fill="#000"/>
<path d="M945.5 913.3L952.7 913.3L949.1 918.1Z" fill="#000"/>
<path d="M997.1 910.5L1004.3 910.5L1000.7 915.3Z" fill="#000"/>
<path d="M1048.8 884.6L1056 884.6L1052.4 889.4Z" fill="#000"/>
<path d="M1100.7 922.8L1107.9 922.8L1104.3 927.6Z" fill="#000"/>
<path d="M1152.5 908.4L1159.7 908.4L1156.1 913.2Z" fill="#000"/>
<circle cx="845.3" cy="969.2" r="3.2" fill="#000"/>
<circle cx="897.2" cy="977" r="3.2" fill="#000"/>
<circle cx="949.1" cy="953.8" r="3.2" fill="#000"/>
<circle cx="1000.7" cy="1006.3" r="3.2" fill="#000"/>
<circle cx="1052.4" cy="942.3" r="3.2" fill="#000"/>
<circle cx="1104.3" cy="990.8" r="3.2" fill="#000"/>
<circle cx="1156.1" cy="976.4" r="3.2" fill="#000"/>
<circle cx="845.3" cy="831.6" r="3.5" fill="#fff" stroke="#000" stroke-width="1.5"/>
<circle cx="897.2" cy="932.5" r="3.5" fill="#fff" stroke="#000" stroke-width="1.5"/>
<circle cx="949.1" cy="912.5" r="3.5" fill="#fff" stroke="#000" stroke-width="1.5"/>
<circle cx="1000.7" cy="948.9" r="3.5" fill="#fff" stroke="#000" stroke-width="1.5"/>
<circle cx="1052.4" cy="991" r="3.5" fill="#fff" stroke="#000" stroke-width="1.5"/>
<circle cx="1104.3" cy="990.8" r="3.5" fill="#fff" stroke="#000" stroke-width="1.5"/>
<circle cx="1156.1" cy="1037" r="3.5" fill="#fff" stroke="#000" stroke-width="1.5"/>
<path d="M162.2 1193.2H165.7V1461.4H540.2" fill="none" stroke="#000" stroke-width="1.8" stroke-linejoin="miter"/>
<text class="ytick" transform="translate(154.6 1200.2) scale(1 1.04)" text-anchor="end" font-size="26.0">400</text>
<text class="ytick" transform="translate(154.6 1244.9) scale(1 1.04)" text-anchor="end" font-size="26.0">350</text>
<text class="ytick" transform="translate(154.6 1289.6) scale(1 1.04)" text-anchor="end" font-size="26.0">300</text>
<text class="ytick" transform="translate(154.6 1334.3) scale(1 1.04)" text-anchor="end" font-size="26.0">250</text>
<text class="ytick" transform="translate(154.6 1379) scale(1 1.04)" text-anchor="end" font-size="26.0">200</text>
<text class="ytick" transform="translate(154.6 1423.7) scale(1 1.04)" text-anchor="end" font-size="26.0">150</text>
<text class="ytick" transform="translate(154.6 1468.4) scale(1 1.04)" text-anchor="end" font-size="26.0">100</text>
<text class="xtick" transform="translate(197.7 1493.3) scale(1 1.04)" text-anchor="middle" font-size="26.0">24</text>
<text class="xtick" transform="translate(249.3 1493.3) scale(1 1.04)" text-anchor="middle" font-size="26.0">48</text>
<text class="xtick" transform="translate(301 1493.3) scale(1 1.04)" text-anchor="middle" font-size="26.0">72</text>
<text class="xtick" transform="translate(352.7 1493.3) scale(1 1.04)" text-anchor="middle" font-size="26.0">96</text>
<text class="xtick" transform="translate(404.6 1493.3) scale(1 1.04)" text-anchor="middle" font-size="26.0">120</text>
<text class="xtick" transform="translate(456.6 1493.3) scale(1 1.04)" text-anchor="middle" font-size="26.0">144</text>
<text class="xtick" transform="translate(508.3 1493.3) scale(1 1.04)" text-anchor="middle" font-size="26.0">168</text>
<path d="M162.2 1237.9H165.7M162.2 1282.6H165.7M162.2 1327.3H165.7M162.2 1372H165.7M162.2 1416.7H165.7M162.2 1461.4H165.7M197.7 1461.4V1466.4M249.3 1461.4V1466.4M301 1461.4V1466.4M352.7 1461.4V1466.4M404.6 1461.4V1466.4M456.6 1461.4V1466.4M508.3 1461.4V1466.4" stroke="#000" stroke-width="1.8" fill="none"/>
<text class="title" transform="translate(350.7 1185.2) scale(1 1.04)" text-anchor="middle" font-weight="bold" font-size="26.25">POD activity in seedling stage</text>
<text class="ylab" transform="translate(70.6 1155.8) rotate(-90) scale(1 1.04)" text-anchor="end" font-weight="bold" font-size="26.3">POD activity (U/g•FW•min)</text>
<text class="time" transform="translate(350.55 1523.2) scale(1 1.04)" text-anchor="middle" font-weight="bold" font-size="26.2">Time (h)</text>
<text class="letter" transform="translate(3.1 1191.3) scale(1 1.04)" font-weight="bold" font-size="34.5">G</text>
<path d="M537.3 1290.2h23.2" stroke="#000" stroke-width="1.35"/>
<circle cx="548.8" cy="1290.2" r="3.1" fill="#000"/>
<text class="legt" transform="translate(566.7 1295.4) scale(1 1.04)" font-size="19.3">CG</text>
<path d="M537.3 1315.5h23.2" stroke="#000" stroke-width="1.35"/>
<circle cx="548.8" cy="1315.5" r="3.3" fill="#fff" stroke="#000" stroke-width="1.3"/>
<text class="legt" transform="translate(566.7 1320.7) scale(1 1.04)" font-size="19.3">SS</text>
<path d="M537.3 1340.8h23.2" stroke="#000" stroke-width="1.35"/>
<path d="M545.8 1338.5L551.8 1338.5L548.8 1343.3Z" fill="#000"/>
<text class="legt" transform="translate(566.7 1346) scale(1 1.04)" font-size="19.3">TEF</text>
<path d="M197.7 1394.4L249.3 1387L301 1403.6L352.7 1356L404.6 1338.5L456.6 1362.6L508.3 1351.1" fill="none" stroke="#000" stroke-width="1.6" stroke-linejoin="miter" stroke-miterlimit="3"/>
<path d="M197.7 1264.7L249.3 1216.3L301 1224L352.7 1280.8L404.6 1299.2L456.6 1392.4L508.3 1374" fill="none" stroke="#000" stroke-width="1.6" stroke-linejoin="miter" stroke-miterlimit="3"/>
<path d="M197.7 1274.8L249.3 1304.3L301 1256.7L352.7 1318.7L404.6 1330.4L456.6 1310.1L508.3 1337.6" fill="none" stroke="#000" stroke-width="1.6" stroke-linejoin="miter" stroke-miterlimit="3"/>
<path d="M197.7 1387.5V1401.9" stroke="#000" stroke-width="1.5"/><path d="M193.7 1387.5h8.0M193.7 1401.9h8.0" stroke="#000" stroke-width="1.8"/>
<path d="M249.3 1385.2V1389" stroke="#000" stroke-width="1.5"/><path d="M245.3 1385.2h8.0M245.3 1389h8.0" stroke="#000" stroke-width="1.8"/>
<path d="M301 1392.4V1414.2" stroke="#000" stroke-width="1.5"/><path d="M297 1392.4h8.0M297 1414.2h8.0" stroke="#000" stroke-width="1.8"/>
<path d="M352.7 1347.1V1364.9" stroke="#000" stroke-width="1.5"/><path d="M348.7 1347.1h8.0M348.7 1364.9h8.0" stroke="#000" stroke-width="1.8"/>
<path d="M404.6 1335.6V1341.3" stroke="#000" stroke-width="1.5"/><path d="M400.6 1335.6h8.0M400.6 1341.3h8.0" stroke="#000" stroke-width="1.8"/>
<path d="M456.6 1359.4V1366" stroke="#000" stroke-width="1.5"/><path d="M452.6 1359.4h8.0M452.6 1366h8.0" stroke="#000" stroke-width="1.8"/>
<path d="M508.3 1344.2V1357.7" stroke="#000" stroke-width="1.5"/><path d="M504.3 1344.2h8.0M504.3 1357.7h8.0" stroke="#000" stroke-width="1.8"/>
<path d="M197.7 1258.4V1271.1" stroke="#000" stroke-width="1.5"/><path d="M193.7 1258.4h8.0M193.7 1271.1h8.0" stroke="#000" stroke-width="1.8"/>
<path d="M249.3 1212.5V1220.6" stroke="#000" stroke-width="1.5"/><path d="M245.3 1212.5h8.0M245.3 1220.6h8.0" stroke="#000" stroke-width="1.8"/>
<path d="M301 1220.6V1227.5" stroke="#000" stroke-width="1.5"/><path d="M297 1220.6h8.0M297 1227.5h8.0" stroke="#000" stroke-width="1.8"/>
<path d="M352.7 1274.5V1288.8" stroke="#000" stroke-width="1.5"/><path d="M348.7 1274.5h8.0M348.7 1288.8h8.0" stroke="#000" stroke-width="1.8"/>
<path d="M404.6 1297.2V1302.6" stroke="#000" stroke-width="1.5"/><path d="M400.6 1297.2h8.0M400.6 1302.6h8.0" stroke="#000" stroke-width="1.8"/>
<path d="M456.6 1389.2V1396.7" stroke="#000" stroke-width="1.5"/><path d="M452.6 1389.2h8.0M452.6 1396.7h8.0" stroke="#000" stroke-width="1.8"/>
<path d="M508.3 1369.5V1378.6" stroke="#000" stroke-width="1.5"/><path d="M504.3 1369.5h8.0M504.3 1378.6h8.0" stroke="#000" stroke-width="1.8"/>
<path d="M197.7 1271.6V1277.4" stroke="#000" stroke-width="1.5"/><path d="M193.7 1271.6h8.0M193.7 1277.4h8.0" stroke="#000" stroke-width="1.8"/>
<path d="M249.3 1302.3V1306.3" stroke="#000" stroke-width="1.5"/><path d="M245.3 1302.3h8.0M245.3 1306.3h8.0" stroke="#000" stroke-width="1.8"/>
<path d="M301 1254.7V1259" stroke="#000" stroke-width="1.5"/><path d="M297 1254.7h8.0M297 1259h8.0" stroke="#000" stroke-width="1.8"/>
<path d="M352.7 1313.5V1325" stroke="#000" stroke-width="1.5"/><path d="M348.7 1313.5h8.0M348.7 1325h8.0" stroke="#000" stroke-width="1.8"/>
<path d="M404.6 1325V1335.9" stroke="#000" stroke-width="1.5"/><path d="M400.6 1325h8.0M400.6 1335.9h8.0" stroke="#000" stroke-width="1.8"/>
<path d="M456.6 1303.8V1317.5" stroke="#000" stroke-width="1.5"/><path d="M452.6 1303.8h8.0M452.6 1317.5h8.0" stroke="#000" stroke-width="1.8"/>
<path d="M508.3 1332.2V1343.3" stroke="#000" stroke-width="1.5"/><path d="M504.3 1332.2h8.0M504.3 1343.3h8.0" stroke="#000" stroke-width="1.8"/>
<path d="M508.3 1384.2V1389.8" stroke="#000" stroke-width="1.5"/><path d="M504.3 1384.2h8.0M504.3 1389.8h8.0" stroke="#000" stroke-width="1.8"/>
<path d="M194.1 1272.8L201.3 1272.8L197.7 1277.6Z" fill="#000"/>
<path d="M245.7 1302.3L252.9 1302.3L249.3 1307.1Z" fill="#000"/>
<path d="M297.4 1254.7L304.6 1254.7L301 1259.5Z" fill="#000"/>
<path d="M349.1 1316.7L356.3 1316.7L352.7 1321.5Z" fill="#000"/>
<path d="M401 1328.4L408.2 1328.4L404.6 1333.2Z" fill="#000"/>
<path d="M453 1308.1L460.2 1308.1L456.6 1312.9Z" fill="#000"/>
<path d="M504.7 1335.6L511.9 1335.6L508.3 1340.4Z" fill="#000"/>
<circle cx="197.7" cy="1394.4" r="3.2" fill="#000"/>
<circle cx="249.3" cy="1387" r="3.2" fill="#000"/>
<circle cx="301" cy="1403.6" r="3.2" fill="#000"/>
<circle cx="352.7" cy="1356" r="3.2" fill="#000"/>
<circle cx="404.6" cy="1338.5" r="3.2" fill="#000"/>
<circle cx="456.6" cy="1362.6" r="3.2" fill="#000"/>
<circle cx="508.3" cy="1351.1" r="3.2" fill="#000"/>
<circle cx="197.7" cy="1264.7" r="3.5" fill="#fff" stroke="#000" stroke-width="1.5"/>
<circle cx="249.3" cy="1216.3" r="3.5" fill="#fff" stroke="#000" stroke-width="1.5"/>
<circle cx="301" cy="1224" r="3.5" fill="#fff" stroke="#000" stroke-width="1.5"/>
<circle cx="352.7" cy="1280.8" r="3.5" fill="#fff" stroke="#000" stroke-width="1.5"/>
<circle cx="404.6" cy="1299.2" r="3.5" fill="#fff" stroke="#000" stroke-width="1.5"/>
<circle cx="456.6" cy="1392.4" r="3.5" fill="#fff" stroke="#000" stroke-width="1.5"/>
<circle cx="508.3" cy="1374" r="3.5" fill="#fff" stroke="#000" stroke-width="1.5"/>
<circle cx="508.3" cy="1387" r="3.2" fill="#000"/>
<path d="M810.6 1192.7H814.1V1461.4H1188.6" fill="none" stroke="#000" stroke-width="1.8" stroke-linejoin="miter"/>
<text class="ytick" transform="translate(800.8 1199.7) scale(1 1.04)" text-anchor="end" font-size="26.0">450</text>
<text class="ytick" transform="translate(800.8 1253.44) scale(1 1.04)" text-anchor="end" font-size="26.0">400</text>
<text class="ytick" transform="translate(800.8 1307.18) scale(1 1.04)" text-anchor="end" font-size="26.0">350</text>
<text class="ytick" transform="translate(800.8 1360.92) scale(1 1.04)" text-anchor="end" font-size="26.0">300</text>
<text class="ytick" transform="translate(800.8 1414.66) scale(1 1.04)" text-anchor="end" font-size="26.0">250</text>
<text class="ytick" transform="translate(800.8 1468.4) scale(1 1.04)" text-anchor="end" font-size="26.0">200</text>
<text class="xtick" transform="translate(846.1 1493.3) scale(1 1.04)" text-anchor="middle" font-size="26.0">24</text>
<text class="xtick" transform="translate(898 1493.3) scale(1 1.04)" text-anchor="middle" font-size="26.0">48</text>
<text class="xtick" transform="translate(949.9 1493.3) scale(1 1.04)" text-anchor="middle" font-size="26.0">72</text>
<text class="xtick" transform="translate(1001.5 1493.3) scale(1 1.04)" text-anchor="middle" font-size="26.0">96</text>
<text class="xtick" transform="translate(1053.2 1493.3) scale(1 1.04)" text-anchor="middle" font-size="26.0">120</text>
<text class="xtick" transform="translate(1105.1 1493.3) scale(1 1.04)" text-anchor="middle" font-size="26.0">144</text>
<text class="xtick" transform="translate(1156.9 1493.3) scale(1 1.04)" text-anchor="middle" font-size="26.0">168</text>
<path d="M810.6 1246.44H814.1M810.6 1300.18H814.1M810.6 1353.92H814.1M810.6 1407.66H814.1M810.6 1461.4H814.1M846.1 1461.4V1466.4M898 1461.4V1466.4M949.9 1461.4V1466.4M1001.5 1461.4V1466.4M1053.2 1461.4V1466.4M1105.1 1461.4V1466.4M1156.9 1461.4V1466.4" stroke="#000" stroke-width="1.8" fill="none"/>
<text class="title" transform="translate(1010.1 1185.1) scale(1 1.04)" text-anchor="middle" font-weight="bold" font-size="26.25">POD activity in fruit setting stage</text>
<text class="ylab" transform="translate(717.2 1163.7) rotate(-90) scale(1 1.04)" text-anchor="end" font-weight="bold" font-size="26.3">POD activity (U/g•FW•min)</text>
<text class="time" transform="translate(999.5 1523.2) scale(1 1.04)" text-anchor="middle" font-weight="bold" font-size="26.2">Time (h)</text>
<text class="letter" transform="translate(648.2 1191.1) scale(1 1.04)" font-weight="bold" font-size="34.5">H</text>
<path d="M1185.7 1290.2h23.2" stroke="#000" stroke-width="1.35"/>
<circle cx="1197.2" cy="1290.2" r="3.1" fill="#000"/>
<text class="legt" transform="translate(1215.1 1295.4) scale(1 1.04)" font-size="19.3">CG</text>
<path d="M1185.7 1315.5h23.2" stroke="#000" stroke-width="1.35"/>
<circle cx="1197.2" cy="1315.5" r="3.3" fill="#fff" stroke="#000" stroke-width="1.3"/>
<text class="legt" transform="translate(1215.1 1320.7) scale(1 1.04)" font-size="19.3">SS</text>
<path d="M1185.7 1340.8h23.2" stroke="#000" stroke-width="1.35"/>
<path d="M1194.2 1338.5L1200.2 1338.5L1197.2 1343.3Z" fill="#000"/>
<text class="legt" transform="translate(1215.1 1346) scale(1 1.04)" font-size="19.3">TEF</text>
<path d="M844.7 1369.7L896.6 1387L948.5 1429.4L1000.1 1399.3L1051.8 1356.5L1103.7 1372.9L1155.5 1372.9" fill="none" stroke="#000" stroke-width="1.6" stroke-linejoin="miter" stroke-miterlimit="3"/>
<path d="M844.7 1211.7L896.6 1207.1L948.5 1299.2L1000.1 1283.4L1051.8 1378.1L1103.7 1417.9L1155.5 1421.4" fill="none" stroke="#000" stroke-width="1.6" stroke-linejoin="miter" stroke-miterlimit="3"/>
<path d="M844.7 1325.3L896.6 1286L948.5 1313.8L1000.1 1304L1051.8 1334.2L1103.7 1327.6L1155.5 1323.8" fill="none" stroke="#000" stroke-width="1.6" stroke-linejoin="miter" stroke-miterlimit="3"/>
<path d="M844.7 1367.4V1372" stroke="#000" stroke-width="1.5"/><path d="M840.7 1367.4h8.0M840.7 1372h8.0" stroke="#000" stroke-width="1.8"/>
<path d="M896.6 1376.6V1397.3" stroke="#000" stroke-width="1.5"/><path d="M892.6 1376.6h8.0M892.6 1397.3h8.0" stroke="#000" stroke-width="1.8"/>
<path d="M948.5 1425.4V1433.4" stroke="#000" stroke-width="1.5"/><path d="M944.5 1425.4h8.0M944.5 1433.4h8.0" stroke="#000" stroke-width="1.8"/>
<path d="M1051.8 1349.1V1364.6" stroke="#000" stroke-width="1.5"/><path d="M1047.8 1349.1h8.0M1047.8 1364.6h8.0" stroke="#000" stroke-width="1.8"/>
<path d="M1103.7 1358.6V1389.5" stroke="#000" stroke-width="1.5"/><path d="M1099.7 1358.6h8.0M1099.7 1389.5h8.0" stroke="#000" stroke-width="1.8"/>
<path d="M1155.5 1370.9V1374.9" stroke="#000" stroke-width="1.5"/><path d="M1151.5 1370.9h8.0M1151.5 1374.9h8.0" stroke="#000" stroke-width="1.8"/>
<path d="M844.7 1206.2V1218.6" stroke="#000" stroke-width="1.5"/><path d="M840.7 1206.2h8.0M840.7 1218.6h8.0" stroke="#000" stroke-width="1.8"/>
<path d="M896.6 1199.9V1215.4" stroke="#000" stroke-width="1.5"/><path d="M892.6 1199.9h8.0M892.6 1215.4h8.0" stroke="#000" stroke-width="1.8"/>
<path d="M948.5 1293.4V1303.8" stroke="#000" stroke-width="1.5"/><path d="M944.5 1293.4h8.0M944.5 1303.8h8.0" stroke="#000" stroke-width="1.8"/>
<path d="M1000.1 1270.8V1296.3" stroke="#000" stroke-width="1.5"/><path d="M996.1 1270.8h8.0M996.1 1296.3h8.0" stroke="#000" stroke-width="1.8"/>
<path d="M1051.8 1375.2V1381.5" stroke="#000" stroke-width="1.5"/><path d="M1047.8 1375.2h8.0M1047.8 1381.5h8.0" stroke="#000" stroke-width="1.8"/>
<path d="M1155.5 1417.1V1425.7" stroke="#000" stroke-width="1.5"/><path d="M1151.5 1417.1h8.0M1151.5 1425.7h8.0" stroke="#000" stroke-width="1.8"/>
<path d="M844.7 1319.5V1332.2" stroke="#000" stroke-width="1.5"/><path d="M840.7 1319.5h8.0M840.7 1332.2h8.0" stroke="#000" stroke-width="1.8"/>
<path d="M896.6 1278.5V1292.9" stroke="#000" stroke-width="1.5"/><path d="M892.6 1278.5h8.0M892.6 1292.9h8.0" stroke="#000" stroke-width="1.8"/>
<path d="M948.5 1296.9V1337.6" stroke="#000" stroke-width="1.5"/><path d="M944.5 1296.9h8.0M944.5 1337.6h8.0" stroke="#000" stroke-width="1.8"/>
<path d="M1000.1 1299.7V1309.8" stroke="#000" stroke-width="1.5"/><path d="M996.1 1299.7h8.0M996.1 1309.8h8.0" stroke="#000" stroke-width="1.8"/>
<path d="M1051.8 1331.9V1336.5" stroke="#000" stroke-width="1.5"/><path d="M1047.8 1331.9h8.0M1047.8 1336.5h8.0" stroke="#000" stroke-width="1.8"/>
<path d="M1103.7 1315.5V1340.8" stroke="#000" stroke-width="1.5"/><path d="M1099.7 1315.5h8.0M1099.7 1340.8h8.0" stroke="#000" stroke-width="1.8"/>
<path d="M1155.5 1316.7V1333" stroke="#000" stroke-width="1.5"/><path d="M1151.5 1316.7h8.0M1151.5 1333h8.0" stroke="#000" stroke-width="1.8"/>
<path d="M841.1 1323.3L848.3 1323.3L844.7 1328.1Z" fill="#000"/>
<path d="M893 1284L900.2 1284L896.6 1288.8Z" fill="#000"/>
<path d="M944.9 1311.8L952.1 1311.8L948.5 1316.6Z" fill="#000"/>
<path d="M996.5 1302L1003.7 1302L1000.1 1306.8Z" fill="#000"/>
<path d="M1048.2 1332.2L1055.4 1332.2L1051.8 1337Z" fill="#000"/>
<path d="M1100.1 1325.6L1107.3 1325.6L1103.7 1330.4Z" fill="#000"/>
<path d="M1151.9 1321.8L1159.1 1321.8L1155.5 1326.6Z" fill="#000"/>
<circle cx="844.7" cy="1369.7" r="3.2" fill="#000"/>
<circle cx="896.6" cy="1387" r="3.2" fill="#000"/>
<circle cx="948.5" cy="1429.4" r="3.2" fill="#000"/>
<circle cx="1000.1" cy="1399.3" r="3.2" fill="#000"/>
<circle cx="1051.8" cy="1356.5" r="3.2" fill="#000"/>
<circle cx="1103.7" cy="1372.9" r="3.2" fill="#000"/>
<circle cx="1155.5" cy="1372.9" r="3.2" fill="#000"/>
<circle cx="844.7" cy="1211.7" r="3.5" fill="#fff" stroke="#000" stroke-width="1.5"/>
<circle cx="896.6" cy="1207.1" r="3.5" fill="#fff" stroke="#000" stroke-width="1.5"/>
<circle cx="948.5" cy="1299.2" r="3.5" fill="#fff" stroke="#000" stroke-width="1.5"/>
<circle cx="1000.1" cy="1283.4" r="3.5" fill="#fff" stroke="#000" stroke-width="1.5"/>
<circle cx="1051.8" cy="1378.1" r="3.5" fill="#fff" stroke="#000" stroke-width="1.5"/>
<circle cx="1103.7" cy="1417.9" r="3.5" fill="#fff" stroke="#000" stroke-width="1.5"/>
<circle cx="1155.5" cy="1421.4" r="3.5" fill="#fff" stroke="#000" stroke-width="1.5"/>
<path d="M162.2 1578.9H165.7V1847.6H540.2" fill="none" stroke="#000" stroke-width="1.8" stroke-linejoin="miter"/>
<text class="ytick" transform="translate(154.6 1582.1) scale(1 1.04)" text-anchor="end" font-size="26.0">90</text>
<text class="ytick" transform="translate(154.6 1639.64) scale(1 1.04)" text-anchor="end" font-size="26.0">80</text>
<text class="ytick" transform="translate(154.6 1693.38) scale(1 1.04)" text-anchor="end" font-size="26.0">70</text>
<text class="ytick" transform="translate(154.6 1747.12) scale(1 1.04)" text-anchor="end" font-size="26.0">60</text>
<text class="ytick" transform="translate(154.6 1800.86) scale(1 1.04)" text-anchor="end" font-size="26.0">50</text>
<text class="ytick" transform="translate(154.6 1854.6) scale(1 1.04)" text-anchor="end" font-size="26.0">40</text>
<text class="xtick" transform="translate(197.7 1879.5) scale(1 1.04)" text-anchor="middle" font-size="26.0">24</text>
<text class="xtick" transform="translate(249.3 1879.5) scale(1 1.04)" text-anchor="middle" font-size="26.0">48</text>
<text class="xtick" transform="translate(301 1879.5) scale(1 1.04)" text-anchor="middle" font-size="26.0">72</text>
<text class="xtick" transform="translate(352.7 1879.5) scale(1 1.04)" text-anchor="middle" font-size="26.0">96</text>
<text class="xtick" transform="translate(404.6 1879.5) scale(1 1.04)" text-anchor="middle" font-size="26.0">120</text>
<text class="xtick" transform="translate(456.6 1879.5) scale(1 1.04)" text-anchor="middle" font-size="26.0">144</text>
<text class="xtick" transform="translate(508.3 1879.5) scale(1 1.04)" text-anchor="middle" font-size="26.0">168</text>
<path d="M162.2 1632.64H165.7M162.2 1686.38H165.7M162.2 1740.12H165.7M162.2 1793.86H165.7M162.2 1847.6H165.7M197.7 1847.6V1852.6M249.3 1847.6V1852.6M301 1847.6V1852.6M352.7 1847.6V1852.6M404.6 1847.6V1852.6M456.6 1847.6V1852.6M508.3 1847.6V1852.6" stroke="#000" stroke-width="1.8" fill="none"/>
<text class="title" transform="translate(350.7 1568.2) scale(1 1.04)" text-anchor="middle" font-weight="bold" font-size="26.25">CAT activity in seedling stage</text>
<text class="ylab" transform="translate(70.6 1543.1) rotate(-90) scale(1 1.04)" text-anchor="end" font-weight="bold" font-size="26.3">CAT activity (U/g•FW•min)</text>
<text class="time" transform="translate(350.55 1909.4) scale(1 1.04)" text-anchor="middle" font-weight="bold" font-size="26.2">Time (h)</text>
<text class="letter" transform="translate(3.1 1574) scale(1 1.04)" font-weight="bold" font-size="34.5">I</text>
<path d="M537.3 1674h23.2" stroke="#000" stroke-width="1.35"/>
<circle cx="548.8" cy="1674" r="3.1" fill="#000"/>
<text class="legt" transform="translate(566.7 1679.2) scale(1 1.04)" font-size="19.3">CG</text>
<path d="M537.3 1699.3h23.2" stroke="#000" stroke-width="1.35"/>
<circle cx="548.8" cy="1699.3" r="3.3" fill="#fff" stroke="#000" stroke-width="1.3"/>
<text class="legt" transform="translate(566.7 1704.5) scale(1 1.04)" font-size="19.3">SS</text>
<path d="M537.3 1724.6h23.2" stroke="#000" stroke-width="1.35"/>
<path d="M545.8 1722.3L551.8 1722.3L548.8 1727.1Z" fill="#000"/>
<text class="legt" transform="translate(566.7 1729.8) scale(1 1.04)" font-size="19.3">TEF</text>
<path d="M197.7 1790.3L249.3 1835.9L301 1785.1L352.7 1742.4L404.6 1720L456.6 1788L508.3 1746.4" fill="none" stroke="#000" stroke-width="1.6" stroke-linejoin="miter" stroke-miterlimit="3"/>
<path d="M197.7 1692.5L249.3 1765.9L301 1656.1L352.7 1647.7L404.6 1757.9L456.6 1698.2L508.3 1749.9" fill="none" stroke="#000" stroke-width="1.6" stroke-linejoin="miter" stroke-miterlimit="3"/>
<path d="M197.7 1695.4L249.3 1718.6L301 1602.4L352.7 1654.1L404.6 1670.4L456.6 1683.9L508.3 1670.4" fill="none" stroke="#000" stroke-width="1.6" stroke-linejoin="miter" stroke-miterlimit="3"/>
<path d="M197.7 1788V1793.2" stroke="#000" stroke-width="1.5"/><path d="M193.7 1788h8.0M193.7 1793.2h8.0" stroke="#000" stroke-width="1.8"/>
<path d="M249.3 1832.5V1839.7" stroke="#000" stroke-width="1.5"/><path d="M245.3 1832.5h8.0M245.3 1839.7h8.0" stroke="#000" stroke-width="1.8"/>
<path d="M301 1767.9V1802.9" stroke="#000" stroke-width="1.5"/><path d="M297 1767.9h8.0M297 1802.9h8.0" stroke="#000" stroke-width="1.8"/>
<path d="M352.7 1737.8V1747.3" stroke="#000" stroke-width="1.5"/><path d="M348.7 1737.8h8.0M348.7 1747.3h8.0" stroke="#000" stroke-width="1.8"/>
<path d="M404.6 1716.3V1724.3" stroke="#000" stroke-width="1.5"/><path d="M400.6 1716.3h8.0M400.6 1724.3h8.0" stroke="#000" stroke-width="1.8"/>
<path d="M456.6 1784.3V1792.6" stroke="#000" stroke-width="1.5"/><path d="M452.6 1784.3h8.0M452.6 1792.6h8.0" stroke="#000" stroke-width="1.8"/>
<path d="M508.3 1740V1752" stroke="#000" stroke-width="1.5"/><path d="M504.3 1740h8.0M504.3 1752h8.0" stroke="#000" stroke-width="1.8"/>
<path d="M197.7 1677.6V1707.1" stroke="#000" stroke-width="1.5"/><path d="M193.7 1677.6h8.0M193.7 1707.1h8.0" stroke="#000" stroke-width="1.8"/>
<path d="M249.3 1754.2V1776" stroke="#000" stroke-width="1.5"/><path d="M245.3 1754.2h8.0M245.3 1776h8.0" stroke="#000" stroke-width="1.8"/>
<path d="M301 1653.8V1658.9" stroke="#000" stroke-width="1.5"/><path d="M297 1653.8h8.0M297 1658.9h8.0" stroke="#000" stroke-width="1.8"/>
<path d="M352.7 1645.2V1650.9" stroke="#000" stroke-width="1.5"/><path d="M348.7 1645.2h8.0M348.7 1650.9h8.0" stroke="#000" stroke-width="1.8"/>
<path d="M404.6 1748.4V1770" stroke="#000" stroke-width="1.5"/><path d="M400.6 1748.4h8.0M400.6 1770h8.0" stroke="#000" stroke-width="1.8"/>
<path d="M456.6 1695.1V1702.5" stroke="#000" stroke-width="1.5"/><path d="M452.6 1695.1h8.0M452.6 1702.5h8.0" stroke="#000" stroke-width="1.8"/>
<path d="M508.3 1733.8V1770.8" stroke="#000" stroke-width="1.5"/><path d="M504.3 1733.8h8.0M504.3 1770.8h8.0" stroke="#000" stroke-width="1.8"/>
<path d="M197.7 1681.9V1710.6" stroke="#000" stroke-width="1.5"/><path d="M193.7 1681.9h8.0M193.7 1710.6h8.0" stroke="#000" stroke-width="1.8"/>
<path d="M249.3 1705.1V1735.2" stroke="#000" stroke-width="1.5"/><path d="M245.3 1705.1h8.0M245.3 1735.2h8.0" stroke="#000" stroke-width="1.8"/>
<path d="M301 1596.4V1608.7" stroke="#000" stroke-width="1.5"/><path d="M297 1596.4h8.0M297 1608.7h8.0" stroke="#000" stroke-width="1.8"/>
<path d="M352.7 1650.3V1658.4" stroke="#000" stroke-width="1.5"/><path d="M348.7 1650.3h8.0M348.7 1658.4h8.0" stroke="#000" stroke-width="1.8"/>
<path d="M404.6 1659.2V1680.4" stroke="#000" stroke-width="1.5"/><path d="M400.6 1659.2h8.0M400.6 1680.4h8.0" stroke="#000" stroke-width="1.8"/>
<path d="M456.6 1672.1V1693.4" stroke="#000" stroke-width="1.5"/><path d="M452.6 1672.1h8.0M452.6 1693.4h8.0" stroke="#000" stroke-width="1.8"/>
<path d="M508.3 1661.2V1679.6" stroke="#000" stroke-width="1.5"/><path d="M504.3 1661.2h8.0M504.3 1679.6h8.0" stroke="#000" stroke-width="1.8"/>
<path d="M194.1 1693.4L201.3 1693.4L197.7 1698.2Z" fill="#000"/>
<path d="M245.7 1716.6L252.9 1716.6L249.3 1721.4Z" fill="#000"/>
<path d="M297.4 1600.4L304.6 1600.4L301 1605.2Z" fill="#000"/>
<path d="M349.1 1652.1L356.3 1652.1L352.7 1656.9Z" fill="#000"/>
<path d="M401 1668.4L408.2 1668.4L404.6 1673.2Z" fill="#000"/>
<path d="M453 1681.9L460.2 1681.9L456.6 1686.7Z" fill="#000"/>
<path d="M504.7 1668.4L511.9 1668.4L508.3 1673.2Z" fill="#000"/>
<circle cx="197.7" cy="1790.3" r="3.2" fill="#000"/>
<circle cx="249.3" cy="1835.9" r="3.2" fill="#000"/>
<circle cx="301" cy="1785.1" r="3.2" fill="#000"/>
<circle cx="352.7" cy="1742.4" r="3.2" fill="#000"/>
<circle cx="404.6" cy="1720" r="3.2" fill="#000"/>
<circle cx="456.6" cy="1788" r="3.2" fill="#000"/>
<circle cx="508.3" cy="1746.4" r="3.2" fill="#000"/>
<circle cx="197.7" cy="1692.5" r="3.5" fill="#fff" stroke="#000" stroke-width="1.5"/>
<circle cx="249.3" cy="1765.9" r="3.5" fill="#fff" stroke="#000" stroke-width="1.5"/>
<circle cx="301" cy="1656.1" r="3.5" fill="#fff" stroke="#000" stroke-width="1.5"/>
<circle cx="352.7" cy="1647.7" r="3.5" fill="#fff" stroke="#000" stroke-width="1.5"/>
<circle cx="404.6" cy="1757.9" r="3.5" fill="#fff" stroke="#000" stroke-width="1.5"/>
<circle cx="456.6" cy="1698.2" r="3.5" fill="#fff" stroke="#000" stroke-width="1.5"/>
<circle cx="508.3" cy="1749.9" r="3.5" fill="#fff" stroke="#000" stroke-width="1.5"/>
<path d="M810.6 1578.6H814.1V1847.6H1188.6" fill="none" stroke="#000" stroke-width="1.8" stroke-linejoin="miter"/>
<text class="ytick" transform="translate(800.8 1585.6) scale(1 1.04)" text-anchor="end" font-size="26.0">90</text>
<text class="ytick" transform="translate(800.8 1630.43) scale(1 1.04)" text-anchor="end" font-size="26.0">80</text>
<text class="ytick" transform="translate(800.8 1675.27) scale(1 1.04)" text-anchor="end" font-size="26.0">70</text>
<text class="ytick" transform="translate(800.8 1720.1) scale(1 1.04)" text-anchor="end" font-size="26.0">60</text>
<text class="ytick" transform="translate(800.8 1764.93) scale(1 1.04)" text-anchor="end" font-size="26.0">50</text>
<text class="ytick" transform="translate(800.8 1809.77) scale(1 1.04)" text-anchor="end" font-size="26.0">40</text>
<text class="ytick" transform="translate(800.8 1854.6) scale(1 1.04)" text-anchor="end" font-size="26.0">30</text>
<text class="xtick" transform="translate(846.1 1879.5) scale(1 1.04)" text-anchor="middle" font-size="26.0">24</text>
<text class="xtick" transform="translate(898 1879.5) scale(1 1.04)" text-anchor="middle" font-size="26.0">48</text>
<text class="xtick" transform="translate(949.9 1879.5) scale(1 1.04)" text-anchor="middle" font-size="26.0">72</text>
<text class="xtick" transform="translate(1001.5 1879.5) scale(1 1.04)" text-anchor="middle" font-size="26.0">96</text>
<text class="xtick" transform="translate(1053.2 1879.5) scale(1 1.04)" text-anchor="middle" font-size="26.0">120</text>
<text class="xtick" transform="translate(1105.1 1879.5) scale(1 1.04)" text-anchor="middle" font-size="26.0">144</text>
<text class="xtick" transform="translate(1156.9 1879.5) scale(1 1.04)" text-anchor="middle" font-size="26.0">168</text>
<path d="M810.6 1623.43H814.1M810.6 1668.27H814.1M810.6 1713.1H814.1M810.6 1757.93H814.1M810.6 1802.77H814.1M810.6 1847.6H814.1M846.1 1847.6V1852.6M898 1847.6V1852.6M949.9 1847.6V1852.6M1001.5 1847.6V1852.6M1053.2 1847.6V1852.6M1105.1 1847.6V1852.6M1156.9 1847.6V1852.6" stroke="#000" stroke-width="1.8" fill="none"/>
<text class="title" transform="translate(1010.1 1568.5) scale(1 1.04)" text-anchor="middle" font-weight="bold" font-size="26.25">CAT activity in fruit setting stage</text>
<text class="ylab" transform="translate(717.2 1552.5) rotate(-90) scale(1 1.04)" text-anchor="end" font-weight="bold" font-size="26.3">CAT activity (U/g•FW•min)</text>
<text class="time" transform="translate(999.5 1909.4) scale(1 1.04)" text-anchor="middle" font-weight="bold" font-size="26.2">Time (h)</text>
<text class="letter" transform="translate(648.2 1574.2) scale(1 1.04)" font-weight="bold" font-size="34.5">J</text>
<path d="M1185.7 1674h23.2" stroke="#000" stroke-width="1.35"/>
<circle cx="1197.2" cy="1674" r="3.1" fill="#000"/>
<text class="legt" transform="translate(1215.1 1679.2) scale(1 1.04)" font-size="19.3">CG</text>
<path d="M1185.7 1699.3h23.2" stroke="#000" stroke-width="1.35"/>
<circle cx="1197.2" cy="1699.3" r="3.3" fill="#fff" stroke="#000" stroke-width="1.3"/>
<text class="legt" transform="translate(1215.1 1704.5) scale(1 1.04)" font-size="19.3">SS</text>
<path d="M1185.7 1724.6h23.2" stroke="#000" stroke-width="1.35"/>
<path d="M1194.2 1722.3L1200.2 1722.3L1197.2 1727.1Z" fill="#000"/>
<text class="legt" transform="translate(1215.1 1729.8) scale(1 1.04)" font-size="19.3">TEF</text>
<path d="M844.9 1775.4L896.8 1738.7L948.7 1728.3L1000.3 1733.8L1052 1790L1103.9 1728.1L1155.7 1722" fill="none" stroke="#000" stroke-width="1.6" stroke-linejoin="miter" stroke-miterlimit="3"/>
<path d="M844.9 1630.8L896.8 1683.6L948.7 1715.4L1000.3 1746.7L1052 1699.4L1103.9 1753.3L1155.7 1765.6" fill="none" stroke="#000" stroke-width="1.6" stroke-linejoin="miter" stroke-miterlimit="3"/>
<path d="M844.9 1674.4L896.8 1624.2L948.7 1666.1L1000.3 1652.9L1052 1662.1L1103.9 1653.8L1155.7 1679" fill="none" stroke="#000" stroke-width="1.6" stroke-linejoin="miter" stroke-miterlimit="3"/>
<path d="M844.9 1766.8V1784" stroke="#000" stroke-width="1.5"/><path d="M840.9 1766.8h8.0M840.9 1784h8.0" stroke="#000" stroke-width="1.8"/>
<path d="M896.8 1732.9V1745" stroke="#000" stroke-width="1.5"/><path d="M892.8 1732.9h8.0M892.8 1745h8.0" stroke="#000" stroke-width="1.8"/>
<path d="M948.7 1724.9V1733.5" stroke="#000" stroke-width="1.5"/><path d="M944.7 1724.9h8.0M944.7 1733.5h8.0" stroke="#000" stroke-width="1.8"/>
<path d="M1000.3 1728V1740" stroke="#000" stroke-width="1.5"/><path d="M996.3 1728h8.0M996.3 1740h8.0" stroke="#000" stroke-width="1.8"/>
<path d="M1052 1776.5V1805.2" stroke="#000" stroke-width="1.5"/><path d="M1048 1776.5h8.0M1048 1805.2h8.0" stroke="#000" stroke-width="1.8"/>
<path d="M1155.7 1718V1726.3" stroke="#000" stroke-width="1.5"/><path d="M1151.7 1718h8.0M1151.7 1726.3h8.0" stroke="#000" stroke-width="1.8"/>
<path d="M844.9 1625.1V1636.8" stroke="#000" stroke-width="1.5"/><path d="M840.9 1625.1h8.0M840.9 1636.8h8.0" stroke="#000" stroke-width="1.8"/>
<path d="M896.8 1681.3V1686.2" stroke="#000" stroke-width="1.5"/><path d="M892.8 1681.3h8.0M892.8 1686.2h8.0" stroke="#000" stroke-width="1.8"/>
<path d="M948.7 1704V1727.2" stroke="#000" stroke-width="1.5"/><path d="M944.7 1704h8.0M944.7 1727.2h8.0" stroke="#000" stroke-width="1.8"/>
<path d="M1000.3 1725.5V1768.5" stroke="#000" stroke-width="1.5"/><path d="M996.3 1725.5h8.0M996.3 1768.5h8.0" stroke="#000" stroke-width="1.8"/>
<path d="M1052 1695.4V1703.1" stroke="#000" stroke-width="1.5"/><path d="M1048 1695.4h8.0M1048 1703.1h8.0" stroke="#000" stroke-width="1.8"/>
<path d="M844.9 1669V1681.3" stroke="#000" stroke-width="1.5"/><path d="M840.9 1669h8.0M840.9 1681.3h8.0" stroke="#000" stroke-width="1.8"/>
<path d="M896.8 1616.2V1630" stroke="#000" stroke-width="1.5"/><path d="M892.8 1616.2h8.0M892.8 1630h8.0" stroke="#000" stroke-width="1.8"/>
<path d="M948.7 1654.9V1681.6" stroke="#000" stroke-width="1.5"/><path d="M944.7 1654.9h8.0M944.7 1681.6h8.0" stroke="#000" stroke-width="1.8"/>
<path d="M1000.3 1647.5V1656.9" stroke="#000" stroke-width="1.5"/><path d="M996.3 1647.5h8.0M996.3 1656.9h8.0" stroke="#000" stroke-width="1.8"/>
<path d="M1052 1660.4V1664.4" stroke="#000" stroke-width="1.5"/><path d="M1048 1660.4h8.0M1048 1664.4h8.0" stroke="#000" stroke-width="1.8"/>
<path d="M1155.7 1677V1682.4" stroke="#000" stroke-width="1.5"/><path d="M1151.7 1677h8.0M1151.7 1682.4h8.0" stroke="#000" stroke-width="1.8"/>
<path d="M841.3 1672.4L848.5 1672.4L844.9 1677.2Z" fill="#000"/>
<path d="M893.2 1622.2L900.4 1622.2L896.8 1627Z" fill="#000"/>
<path d="M945.1 1664.1L952.3 1664.1L948.7 1668.9Z" fill="#000"/>
<path d="M996.7 1650.9L1003.9 1650.9L1000.3 1655.7Z" fill="#000"/>
<path d="M1048.4 1660.1L1055.6 1660.1L1052 1664.9Z" fill="#000"/>
<path d="M1100.3 1651.8L1107.5 1651.8L1103.9 1656.6Z" fill="#000"/>
<path d="M1152.1 1677L1159.3 1677L1155.7 1681.8Z" fill="#000"/>
<circle cx="844.9" cy="1775.4" r="3.2" fill="#000"/>
<circle cx="896.8" cy="1738.7" r="3.2" fill="#000"/>
<circle cx="948.7" cy="1728.3" r="3.2" fill="#000"/>
<circle cx="1000.3" cy="1733.8" r="3.2" fill="#000"/>
<circle cx="1052" cy="1790" r="3.2" fill="#000"/>
<circle cx="1103.9" cy="1728.1" r="3.2" fill="#000"/>
<circle cx="1155.7" cy="1722" r="3.2" fill="#000"/>
<circle cx="844.9" cy="1630.8" r="3.5" fill="#fff" stroke="#000" stroke-width="1.5"/>
<circle cx="896.8" cy="1683.6" r="3.5" fill="#fff" stroke="#000" stroke-width="1.5"/>
<circle cx="948.7" cy="1715.4" r="3.5" fill="#fff" stroke="#000" stroke-width="1.5"/>
<circle cx="1000.3" cy="1746.7" r="3.5" fill="#fff" stroke="#000" stroke-width="1.5"/>
<circle cx="1052" cy="1699.4" r="3.5" fill="#fff" stroke="#000" stroke-width="1.5"/>
<circle cx="1103.9" cy="1753.3" r="3.5" fill="#fff" stroke="#000" stroke-width="1.5"/>
<circle cx="1155.7" cy="1765.6" r="3.5" fill="#fff" stroke="#000" stroke-width="1.5"/>
<path d="M162.2 1960.6H165.7V2229.5H540.2" fill="none" stroke="#000" stroke-width="1.8" stroke-linejoin="miter"/>
<text class="ytick" transform="translate(154.6 1967.6) scale(1 1.04)" text-anchor="end" font-size="26.0">18</text>
<text class="ytick" transform="translate(154.6 2006.01) scale(1 1.04)" text-anchor="end" font-size="26.0">16</text>
<text class="ytick" transform="translate(154.6 2044.43) scale(1 1.04)" text-anchor="end" font-size="26.0">14</text>
<text class="ytick" transform="translate(154.6 2082.84) scale(1 1.04)" text-anchor="end" font-size="26.0">12</text>
<text class="ytick" transform="translate(154.6 2121.26) scale(1 1.04)" text-anchor="end" font-size="26.0">10</text>
<text class="ytick" transform="translate(154.6 2159.67) scale(1 1.04)" text-anchor="end" font-size="26.0">8</text>
<text class="ytick" transform="translate(154.6 2198.09) scale(1 1.04)" text-anchor="end" font-size="26.0">6</text>
<text class="ytick" transform="translate(154.6 2236.5) scale(1 1.04)" text-anchor="end" font-size="26.0">4</text>
<text class="xtick" transform="translate(197.7 2261.4) scale(1 1.04)" text-anchor="middle" font-size="26.0">24</text>
<text class="xtick" transform="translate(249.3 2261.4) scale(1 1.04)" text-anchor="middle" font-size="26.0">48</text>
<text class="xtick" transform="translate(301 2261.4) scale(1 1.04)" text-anchor="middle" font-size="26.0">72</text>
<text class="xtick" transform="translate(352.7 2261.4) scale(1 1.04)" text-anchor="middle" font-size="26.0">96</text>
<text class="xtick" transform="translate(404.6 2261.4) scale(1 1.04)" text-anchor="middle" font-size="26.0">120</text>
<text class="xtick" transform="translate(456.6 2261.4) scale(1 1.04)" text-anchor="middle" font-size="26.0">144</text>
<text class="xtick" transform="translate(508.3 2261.4) scale(1 1.04)" text-anchor="middle" font-size="26.0">168</text>
<path d="M162.2 1999.01H165.7M162.2 2037.43H165.7M162.2 2075.84H165.7M162.2 2114.26H165.7M162.2 2152.67H165.7M162.2 2191.09H165.7M162.2 2229.5H165.7M197.7 2229.5V2234.5M249.3 2229.5V2234.5M301 2229.5V2234.5M352.7 2229.5V2234.5M404.6 2229.5V2234.5M456.6 2229.5V2234.5M508.3 2229.5V2234.5" stroke="#000" stroke-width="1.8" fill="none"/>
<text class="title" transform="translate(350.7 1949.8) scale(1 1.04)" text-anchor="middle" font-weight="bold" font-size="26.25">PAL activity in seedling stage</text>
<text class="ylab" transform="translate(70.6 1925.3) rotate(-90) scale(1 1.04)" text-anchor="end" font-weight="bold" font-size="26.3">PAL activity (U/g•FW•min)</text>
<text class="time" transform="translate(350.55 2291.3) scale(1 1.04)" text-anchor="middle" font-weight="bold" font-size="26.2">Time (h)</text>
<text class="letter" transform="translate(3.1 1955.9) scale(1 1.04)" font-weight="bold" font-size="34.5">K</text>
<path d="M537.3 2058.3h23.2" stroke="#000" stroke-width="1.35"/>
<circle cx="548.8" cy="2058.3" r="3.1" fill="#000"/>
<text class="legt" transform="translate(566.7 2063.5) scale(1 1.04)" font-size="19.3">CG</text>
<path d="M537.3 2083.6h23.2" stroke="#000" stroke-width="1.35"/>
<circle cx="548.8" cy="2083.6" r="3.3" fill="#fff" stroke="#000" stroke-width="1.3"/>
<text class="legt" transform="translate(566.7 2088.8) scale(1 1.04)" font-size="19.3">SS</text>
<path d="M537.3 2108.9h23.2" stroke="#000" stroke-width="1.35"/>
<path d="M545.8 2106.6L551.8 2106.6L548.8 2111.4Z" fill="#000"/>
<text class="legt" transform="translate(566.7 2114.1) scale(1 1.04)" font-size="19.3">TEF</text>
<path d="M197.7 2189.4L249.3 2146.3L301 2184.5L352.7 2128.8L404.6 2167.9L456.6 2126.3L508.3 2152.9" fill="none" stroke="#000" stroke-width="1.6" stroke-linejoin="miter" stroke-miterlimit="3"/>
<path d="M197.7 2076.9L249.3 2003.8L301 1986.6L352.7 2029.6L404.6 2103L456.6 2173.9L508.3 2179.6" fill="none" stroke="#000" stroke-width="1.6" stroke-linejoin="miter" stroke-miterlimit="3"/>
<path d="M197.7 2054.8L249.3 2002.3L301 1977.9L352.7 1995.4L404.6 2006.6L456.6 2024.7L508.3 2084.1" fill="none" stroke="#000" stroke-width="1.6" stroke-linejoin="miter" stroke-miterlimit="3"/>
<path d="M197.7 2187.1V2191.7" stroke="#000" stroke-width="1.5"/><path d="M193.7 2187.1h8.0M193.7 2191.7h8.0" stroke="#000" stroke-width="1.8"/>
<path d="M249.3 2143.8V2149.2" stroke="#000" stroke-width="1.5"/><path d="M245.3 2143.8h8.0M245.3 2149.2h8.0" stroke="#000" stroke-width="1.8"/>
<path d="M301 2181.9V2187.1" stroke="#000" stroke-width="1.5"/><path d="M297 2181.9h8.0M297 2187.1h8.0" stroke="#000" stroke-width="1.8"/>
<path d="M456.6 2123.7V2128.8" stroke="#000" stroke-width="1.5"/><path d="M452.6 2123.7h8.0M452.6 2128.8h8.0" stroke="#000" stroke-width="1.8"/>
<path d="M508.3 2150.4V2155.5" stroke="#000" stroke-width="1.5"/><path d="M504.3 2150.4h8.0M504.3 2155.5h8.0" stroke="#000" stroke-width="1.8"/>
<path d="M301 1982.3V1994.3" stroke="#000" stroke-width="1.5"/><path d="M297 1982.3h8.0M297 1994.3h8.0" stroke="#000" stroke-width="1.8"/>
<path d="M352.7 2021.3V2037.3" stroke="#000" stroke-width="1.5"/><path d="M348.7 2021.3h8.0M348.7 2037.3h8.0" stroke="#000" stroke-width="1.8"/>
<path d="M404.6 2096.7V2112.2" stroke="#000" stroke-width="1.5"/><path d="M400.6 2096.7h8.0M400.6 2112.2h8.0" stroke="#000" stroke-width="1.8"/>
<path d="M508.3 2176.5V2183.6" stroke="#000" stroke-width="1.5"/><path d="M504.3 2176.5h8.0M504.3 2183.6h8.0" stroke="#000" stroke-width="1.8"/>
<path d="M197.7 2045.4V2064.9" stroke="#000" stroke-width="1.5"/><path d="M193.7 2045.4h8.0M193.7 2064.9h8.0" stroke="#000" stroke-width="1.8"/>
<path d="M301 1976.2V1980.2" stroke="#000" stroke-width="1.5"/><path d="M297 1976.2h8.0M297 1980.2h8.0" stroke="#000" stroke-width="1.8"/>
<path d="M352.7 1993.7V1997.5" stroke="#000" stroke-width="1.5"/><path d="M348.7 1993.7h8.0M348.7 1997.5h8.0" stroke="#000" stroke-width="1.8"/>
<path d="M404.6 2000V2012.7" stroke="#000" stroke-width="1.5"/><path d="M400.6 2000h8.0M400.6 2012.7h8.0" stroke="#000" stroke-width="1.8"/>
<path d="M456.6 2018.1V2029.6" stroke="#000" stroke-width="1.5"/><path d="M452.6 2018.1h8.0M452.6 2029.6h8.0" stroke="#000" stroke-width="1.8"/>
<path d="M508.3 2082.1V2086.4" stroke="#000" stroke-width="1.5"/><path d="M504.3 2082.1h8.0M504.3 2086.4h8.0" stroke="#000" stroke-width="1.8"/>
<path d="M194.1 2052.8L201.3 2052.8L197.7 2057.6Z" fill="#000"/>
<path d="M245.7 2000.3L252.9 2000.3L249.3 2005.1Z" fill="#000"/>
<path d="M297.4 1975.9L304.6 1975.9L301 1980.7Z" fill="#000"/>
<path d="M349.1 1993.4L356.3 1993.4L352.7 1998.2Z" fill="#000"/>
<path d="M401 2004.6L408.2 2004.6L404.6 2009.4Z" fill="#000"/>
<path d="M453 2022.7L460.2 2022.7L456.6 2027.5Z" fill="#000"/>
<path d="M504.7 2082.1L511.9 2082.1L508.3 2086.9Z" fill="#000"/>
<circle cx="197.7" cy="2189.4" r="3.2" fill="#000"/>
<circle cx="249.3" cy="2146.3" r="3.2" fill="#000"/>
<circle cx="301" cy="2184.5" r="3.2" fill="#000"/>
<circle cx="352.7" cy="2128.8" r="3.2" fill="#000"/>
<circle cx="404.6" cy="2167.9" r="3.2" fill="#000"/>
<circle cx="456.6" cy="2126.3" r="3.2" fill="#000"/>
<circle cx="508.3" cy="2152.9" r="3.2" fill="#000"/>
<circle cx="197.7" cy="2076.9" r="3.5" fill="#fff" stroke="#000" stroke-width="1.5"/>
<circle cx="249.3" cy="2003.8" r="3.5" fill="#fff" stroke="#000" stroke-width="1.5"/>
<circle cx="301" cy="1986.6" r="3.5" fill="#fff" stroke="#000" stroke-width="1.5"/>
<circle cx="352.7" cy="2029.6" r="3.5" fill="#fff" stroke="#000" stroke-width="1.5"/>
<circle cx="404.6" cy="2103" r="3.5" fill="#fff" stroke="#000" stroke-width="1.5"/>
<circle cx="456.6" cy="2173.9" r="3.5" fill="#fff" stroke="#000" stroke-width="1.5"/>
<circle cx="508.3" cy="2179.6" r="3.5" fill="#fff" stroke="#000" stroke-width="1.5"/>
<circle cx="249.3" cy="2002.8" r="3.2" fill="#000"/>
<path d="M810.7 1960.7H814.2V2229.6H1188.7" fill="none" stroke="#000" stroke-width="1.8" stroke-linejoin="miter"/>
<text class="ytick" transform="translate(800.8 1967.7) scale(1 1.04)" text-anchor="end" font-size="26.0">40</text>
<text class="ytick" transform="translate(800.8 2012.52) scale(1 1.04)" text-anchor="end" font-size="26.0">35</text>
<text class="ytick" transform="translate(800.8 2057.33) scale(1 1.04)" text-anchor="end" font-size="26.0">30</text>
<text class="ytick" transform="translate(800.8 2102.15) scale(1 1.04)" text-anchor="end" font-size="26.0">25</text>
<text class="ytick" transform="translate(800.8 2146.97) scale(1 1.04)" text-anchor="end" font-size="26.0">20</text>
<text class="ytick" transform="translate(800.8 2191.78) scale(1 1.04)" text-anchor="end" font-size="26.0">15</text>
<text class="ytick" transform="translate(800.8 2236.6) scale(1 1.04)" text-anchor="end" font-size="26.0">10</text>
<text class="xtick" transform="translate(846.1 2261.5) scale(1 1.04)" text-anchor="middle" font-size="26.0">24</text>
<text class="xtick" transform="translate(898 2261.5) scale(1 1.04)" text-anchor="middle" font-size="26.0">48</text>
<text class="xtick" transform="translate(949.9 2261.5) scale(1 1.04)" text-anchor="middle" font-size="26.0">72</text>
<text class="xtick" transform="translate(1001.5 2261.5) scale(1 1.04)" text-anchor="middle" font-size="26.0">96</text>
<text class="xtick" transform="translate(1053.2 2261.5) scale(1 1.04)" text-anchor="middle" font-size="26.0">120</text>
<text class="xtick" transform="translate(1105.1 2261.5) scale(1 1.04)" text-anchor="middle" font-size="26.0">144</text>
<text class="xtick" transform="translate(1156.9 2261.5) scale(1 1.04)" text-anchor="middle" font-size="26.0">168</text>
<path d="M810.7 2005.52H814.2M810.7 2050.33H814.2M810.7 2095.15H814.2M810.7 2139.97H814.2M810.7 2184.78H814.2M810.7 2229.6H814.2M846.1 2229.6V2234.6M898 2229.6V2234.6M949.9 2229.6V2234.6M1001.5 2229.6V2234.6M1053.2 2229.6V2234.6M1105.1 2229.6V2234.6M1156.9 2229.6V2234.6" stroke="#000" stroke-width="1.8" fill="none"/>
<text class="title" transform="translate(1010.1 1950.3) scale(1 1.04)" text-anchor="middle" font-weight="bold" font-size="26.25">PAL activity in fruit setting stage</text>
<text class="ylab" transform="translate(717.2 1935.3) rotate(-90) scale(1 1.04)" text-anchor="end" font-weight="bold" font-size="26.3">PAL activity (U/g•FW•min)</text>
<text class="time" transform="translate(1028.6 2291.4) scale(1 1.04)" text-anchor="middle" font-weight="bold" font-size="26.2">Time (h)</text>
<text class="letter" transform="translate(648.2 1955.9) scale(1 1.04)" font-weight="bold" font-size="34.5">L</text>
<path d="M1185.8 2058.3h23.2" stroke="#000" stroke-width="1.35"/>
<circle cx="1197.3" cy="2058.3" r="3.1" fill="#000"/>
<text class="legt" transform="translate(1215.2 2063.5) scale(1 1.04)" font-size="19.3">CG</text>
<path d="M1185.8 2083.6h23.2" stroke="#000" stroke-width="1.35"/>
<circle cx="1197.3" cy="2083.6" r="3.3" fill="#fff" stroke="#000" stroke-width="1.3"/>
<text class="legt" transform="translate(1215.2 2088.8) scale(1 1.04)" font-size="19.3">SS</text>
<path d="M1185.8 2108.9h23.2" stroke="#000" stroke-width="1.35"/>
<path d="M1194.3 2106.6L1200.3 2106.6L1197.3 2111.4Z" fill="#000"/>
<text class="legt" transform="translate(1215.2 2114.1) scale(1 1.04)" font-size="19.3">TEF</text>
<path d="M845.4 2175.9L897.3 2122.8L949.2 2167.6L1000.8 2102.2L1052.5 2144L1104.4 2149.8L1156.2 2122.5" fill="none" stroke="#000" stroke-width="1.6" stroke-linejoin="miter" stroke-miterlimit="3"/>
<path d="M845.4 2108.2L897.3 2059.7L949.2 2075.8L1000.8 2070.3L1052.5 2065.7L1104.4 2095.3L1156.2 2157.2" fill="none" stroke="#000" stroke-width="1.6" stroke-linejoin="miter" stroke-miterlimit="3"/>
<path d="M845.4 2056.8L897.3 1999.5L949.2 2049.7L1000.8 1996.9L1052.5 2031.9L1104.4 2049.7L1156.2 2027.3" fill="none" stroke="#000" stroke-width="1.6" stroke-linejoin="miter" stroke-miterlimit="3"/>
<path d="M845.4 2169V2183.9" stroke="#000" stroke-width="1.5"/><path d="M841.4 2169h8.0M841.4 2183.9h8.0" stroke="#000" stroke-width="1.8"/>
<path d="M897.3 2117.9V2127.7" stroke="#000" stroke-width="1.5"/><path d="M893.3 2117.9h8.0M893.3 2127.7h8.0" stroke="#000" stroke-width="1.8"/>
<path d="M1104.4 2142.9V2157" stroke="#000" stroke-width="1.5"/><path d="M1100.4 2142.9h8.0M1100.4 2157h8.0" stroke="#000" stroke-width="1.8"/>
<path d="M1156.2 2120.5V2124.5" stroke="#000" stroke-width="1.5"/><path d="M1152.2 2120.5h8.0M1152.2 2124.5h8.0" stroke="#000" stroke-width="1.8"/>
<path d="M845.4 2098.7V2118.2" stroke="#000" stroke-width="1.5"/><path d="M841.4 2098.7h8.0M841.4 2118.2h8.0" stroke="#000" stroke-width="1.8"/>
<path d="M897.3 2054.3V2065.7" stroke="#000" stroke-width="1.5"/><path d="M893.3 2054.3h8.0M893.3 2065.7h8.0" stroke="#000" stroke-width="1.8"/>
<path d="M1000.8 2064.9V2075.5" stroke="#000" stroke-width="1.5"/><path d="M996.8 2064.9h8.0M996.8 2075.5h8.0" stroke="#000" stroke-width="1.8"/>
<path d="M1104.4 2091.8V2098.9" stroke="#000" stroke-width="1.5"/><path d="M1100.4 2091.8h8.0M1100.4 2098.9h8.0" stroke="#000" stroke-width="1.8"/>
<path d="M1156.2 2149.5V2165.3" stroke="#000" stroke-width="1.5"/><path d="M1152.2 2149.5h8.0M1152.2 2165.3h8.0" stroke="#000" stroke-width="1.8"/>
<path d="M897.3 1990.6V2003.8" stroke="#000" stroke-width="1.5"/><path d="M893.3 1990.6h8.0M893.3 2003.8h8.0" stroke="#000" stroke-width="1.8"/>
<path d="M949.2 2039.9V2060" stroke="#000" stroke-width="1.5"/><path d="M945.2 2039.9h8.0M945.2 2060h8.0" stroke="#000" stroke-width="1.8"/>
<path d="M1000.8 1992.9V2000.3" stroke="#000" stroke-width="1.5"/><path d="M996.8 1992.9h8.0M996.8 2000.3h8.0" stroke="#000" stroke-width="1.8"/>
<path d="M1052.5 2029V2035.3" stroke="#000" stroke-width="1.5"/><path d="M1048.5 2029h8.0M1048.5 2035.3h8.0" stroke="#000" stroke-width="1.8"/>
<path d="M1104.4 2046.8V2053.1" stroke="#000" stroke-width="1.5"/><path d="M1100.4 2046.8h8.0M1100.4 2053.1h8.0" stroke="#000" stroke-width="1.8"/>
<path d="M1156.2 2023.3V2030.2" stroke="#000" stroke-width="1.5"/><path d="M1152.2 2023.3h8.0M1152.2 2030.2h8.0" stroke="#000" stroke-width="1.8"/>
<path d="M897.3 1968.2V1983.7" stroke="#000" stroke-width="1.5"/><path d="M893.3 1968.2h8.0M893.3 1983.7h8.0" stroke="#000" stroke-width="1.8"/>
<path d="M841.8 2054.8L849 2054.8L845.4 2059.6Z" fill="#000"/>
<path d="M893.7 1997.5L900.9 1997.5L897.3 2002.3Z" fill="#000"/>
<path d="M945.6 2047.7L952.8 2047.7L949.2 2052.5Z" fill="#000"/>
<path d="M997.2 1994.9L1004.4 1994.9L1000.8 1999.7Z" fill="#000"/>
<path d="M1048.9 2029.9L1056.1 2029.9L1052.5 2034.7Z" fill="#000"/>
<path d="M1100.8 2047.7L1108 2047.7L1104.4 2052.5Z" fill="#000"/>
<path d="M1152.6 2025.3L1159.8 2025.3L1156.2 2030.1Z" fill="#000"/>
<circle cx="845.4" cy="2175.9" r="3.2" fill="#000"/>
<circle cx="897.3" cy="2122.8" r="3.2" fill="#000"/>
<circle cx="949.2" cy="2167.6" r="3.2" fill="#000"/>
<circle cx="1000.8" cy="2102.2" r="3.2" fill="#000"/>
<circle cx="1052.5" cy="2144" r="3.2" fill="#000"/>
<circle cx="1104.4" cy="2149.8" r="3.2" fill="#000"/>
<circle cx="1156.2" cy="2122.5" r="3.2" fill="#000"/>
<circle cx="845.4" cy="2108.2" r="3.5" fill="#fff" stroke="#000" stroke-width="1.5"/>
<circle cx="897.3" cy="2059.7" r="3.5" fill="#fff" stroke="#000" stroke-width="1.5"/>
<circle cx="949.2" cy="2075.8" r="3.5" fill="#fff" stroke="#000" stroke-width="1.5"/>
<circle cx="1000.8" cy="2070.3" r="3.5" fill="#fff" stroke="#000" stroke-width="1.5"/>
<circle cx="1052.5" cy="2065.7" r="3.5" fill="#fff" stroke="#000" stroke-width="1.5"/>
<circle cx="1104.4" cy="2095.3" r="3.5" fill="#fff" stroke="#000" stroke-width="1.5"/>
<circle cx="1156.2" cy="2157.2" r="3.5" fill="#fff" stroke="#000" stroke-width="1.5"/>
<circle cx="897.3" cy="1975.4" r="3.5" fill="#fff" stroke="#000" stroke-width="1.5"/>
</svg>
</body></html>
